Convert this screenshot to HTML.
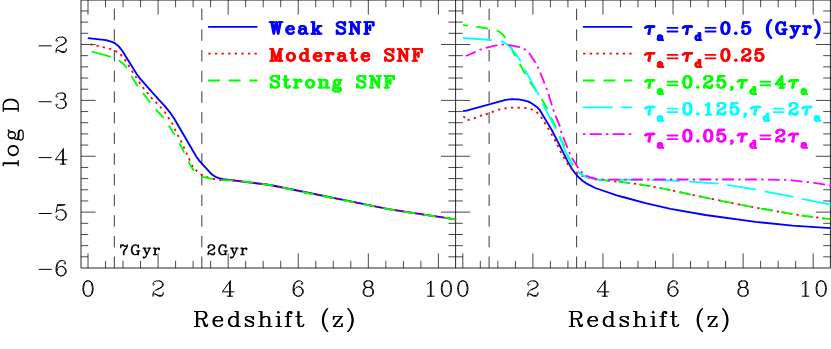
<!DOCTYPE html>
<html><head><meta charset="utf-8"><title>chart</title>
<style>html,body{margin:0;padding:0;background:#fff;font-family:"Liberation Sans",sans-serif}svg{display:block;position:absolute;left:0;top:0}</style>
</head><body>
<svg width="831" height="349" viewBox="0 0 831 349">
<rect width="831" height="349" fill="#fff"/>
<path d="M81.00 0.05L830.40 0.05 M81.00 268.00L830.40 268.00 M81.00 0.05L81.00 268.00 M455.60 0.05L455.60 268.00 M830.40 0.05L830.40 268.00" stroke="#000" stroke-width="0.85" fill="none" stroke-linecap="butt"/>
<path d="M88.00 0.05L88.00 14.65 M88.00 268.00L88.00 253.40 M105.52 0.05L105.52 7.25 M105.52 268.00L105.52 260.80 M123.04 0.05L123.04 7.25 M123.04 268.00L123.04 260.80 M140.56 0.05L140.56 7.25 M140.56 268.00L140.56 260.80 M158.08 0.05L158.08 14.65 M158.08 268.00L158.08 253.40 M175.60 0.05L175.60 7.25 M175.60 268.00L175.60 260.80 M193.12 0.05L193.12 7.25 M193.12 268.00L193.12 260.80 M210.64 0.05L210.64 7.25 M210.64 268.00L210.64 260.80 M228.16 0.05L228.16 14.65 M228.16 268.00L228.16 253.40 M245.68 0.05L245.68 7.25 M245.68 268.00L245.68 260.80 M263.20 0.05L263.20 7.25 M263.20 268.00L263.20 260.80 M280.72 0.05L280.72 7.25 M280.72 268.00L280.72 260.80 M298.24 0.05L298.24 14.65 M298.24 268.00L298.24 253.40 M315.76 0.05L315.76 7.25 M315.76 268.00L315.76 260.80 M333.28 0.05L333.28 7.25 M333.28 268.00L333.28 260.80 M350.80 0.05L350.80 7.25 M350.80 268.00L350.80 260.80 M368.32 0.05L368.32 14.65 M368.32 268.00L368.32 253.40 M385.84 0.05L385.84 7.25 M385.84 268.00L385.84 260.80 M403.36 0.05L403.36 7.25 M403.36 268.00L403.36 260.80 M420.88 0.05L420.88 7.25 M420.88 268.00L420.88 260.80 M438.40 0.05L438.40 14.65 M438.40 268.00L438.40 253.40 M81.00 256.82L88.20 256.82 M455.60 256.82L448.40 256.82 M81.00 245.65L88.20 245.65 M455.60 245.65L448.40 245.65 M81.00 234.48L88.20 234.48 M455.60 234.48L448.40 234.48 M81.00 223.30L88.20 223.30 M455.60 223.30L448.40 223.30 M81.00 212.12L95.60 212.12 M455.60 212.12L441.00 212.12 M81.00 200.95L88.20 200.95 M455.60 200.95L448.40 200.95 M81.00 189.77L88.20 189.77 M455.60 189.77L448.40 189.77 M81.00 178.60L88.20 178.60 M455.60 178.60L448.40 178.60 M81.00 167.43L88.20 167.43 M455.60 167.43L448.40 167.43 M81.00 156.25L95.60 156.25 M455.60 156.25L441.00 156.25 M81.00 145.07L88.20 145.07 M455.60 145.07L448.40 145.07 M81.00 133.90L88.20 133.90 M455.60 133.90L448.40 133.90 M81.00 122.72L88.20 122.72 M455.60 122.72L448.40 122.72 M81.00 111.55L88.20 111.55 M455.60 111.55L448.40 111.55 M81.00 100.38L95.60 100.38 M455.60 100.38L441.00 100.38 M81.00 89.20L88.20 89.20 M455.60 89.20L448.40 89.20 M81.00 78.02L88.20 78.02 M455.60 78.02L448.40 78.02 M81.00 66.85L88.20 66.85 M455.60 66.85L448.40 66.85 M81.00 55.67L88.20 55.67 M455.60 55.67L448.40 55.67 M81.00 44.50L95.60 44.50 M455.60 44.50L441.00 44.50 M81.00 33.32L88.20 33.32 M455.60 33.32L448.40 33.32 M81.00 22.15L88.20 22.15 M455.60 22.15L448.40 22.15 M81.00 10.97L88.20 10.97 M455.60 10.97L448.40 10.97 M462.80 0.05L462.80 14.65 M462.80 268.00L462.80 253.40 M480.32 0.05L480.32 7.25 M480.32 268.00L480.32 260.80 M497.84 0.05L497.84 7.25 M497.84 268.00L497.84 260.80 M515.36 0.05L515.36 7.25 M515.36 268.00L515.36 260.80 M532.88 0.05L532.88 14.65 M532.88 268.00L532.88 253.40 M550.40 0.05L550.40 7.25 M550.40 268.00L550.40 260.80 M567.92 0.05L567.92 7.25 M567.92 268.00L567.92 260.80 M585.44 0.05L585.44 7.25 M585.44 268.00L585.44 260.80 M602.96 0.05L602.96 14.65 M602.96 268.00L602.96 253.40 M620.48 0.05L620.48 7.25 M620.48 268.00L620.48 260.80 M638.00 0.05L638.00 7.25 M638.00 268.00L638.00 260.80 M655.52 0.05L655.52 7.25 M655.52 268.00L655.52 260.80 M673.04 0.05L673.04 14.65 M673.04 268.00L673.04 253.40 M690.56 0.05L690.56 7.25 M690.56 268.00L690.56 260.80 M708.08 0.05L708.08 7.25 M708.08 268.00L708.08 260.80 M725.60 0.05L725.60 7.25 M725.60 268.00L725.60 260.80 M743.12 0.05L743.12 14.65 M743.12 268.00L743.12 253.40 M760.64 0.05L760.64 7.25 M760.64 268.00L760.64 260.80 M778.16 0.05L778.16 7.25 M778.16 268.00L778.16 260.80 M795.68 0.05L795.68 7.25 M795.68 268.00L795.68 260.80 M813.20 0.05L813.20 14.65 M813.20 268.00L813.20 253.40 M455.60 256.82L462.80 256.82 M830.40 256.82L823.20 256.82 M455.60 245.65L462.80 245.65 M830.40 245.65L823.20 245.65 M455.60 234.48L462.80 234.48 M830.40 234.48L823.20 234.48 M455.60 223.30L462.80 223.30 M830.40 223.30L823.20 223.30 M455.60 212.12L470.20 212.12 M830.40 212.12L815.80 212.12 M455.60 200.95L462.80 200.95 M830.40 200.95L823.20 200.95 M455.60 189.77L462.80 189.77 M830.40 189.77L823.20 189.77 M455.60 178.60L462.80 178.60 M830.40 178.60L823.20 178.60 M455.60 167.43L462.80 167.43 M830.40 167.43L823.20 167.43 M455.60 156.25L470.20 156.25 M830.40 156.25L815.80 156.25 M455.60 145.07L462.80 145.07 M830.40 145.07L823.20 145.07 M455.60 133.90L462.80 133.90 M830.40 133.90L823.20 133.90 M455.60 122.72L462.80 122.72 M830.40 122.72L823.20 122.72 M455.60 111.55L462.80 111.55 M830.40 111.55L823.20 111.55 M455.60 100.38L470.20 100.38 M830.40 100.38L815.80 100.38 M455.60 89.20L462.80 89.20 M830.40 89.20L823.20 89.20 M455.60 78.02L462.80 78.02 M830.40 78.02L823.20 78.02 M455.60 66.85L462.80 66.85 M830.40 66.85L823.20 66.85 M455.60 55.67L462.80 55.67 M830.40 55.67L823.20 55.67 M455.60 44.50L470.20 44.50 M830.40 44.50L815.80 44.50 M455.60 33.32L462.80 33.32 M830.40 33.32L823.20 33.32 M455.60 22.15L462.80 22.15 M830.40 22.15L823.20 22.15 M455.60 10.97L462.80 10.97 M830.40 10.97L823.20 10.97" stroke="#000" stroke-width="0.72" fill="none" stroke-linecap="butt"/>
<path d="M114.32 268.00L114.32 0.05 M201.84 268.00L201.84 0.05 M489.12 268.00L489.12 0.05 M576.64 268.00L576.64 0.05" stroke="#000" stroke-width="0.78" fill="none" stroke-dasharray="11.5 9.15" stroke-dashoffset="0"/>
<path d="M87.8 38.2 L106.1 40.2 L113.4 42.4 L115.5 43.6 L118.6 46.2 L122.1 50.6 L136.8 74.3 L140.3 78.9 L158.5 99.4 L164.4 105.6 L170.5 113.2 L174.3 118.8 L196.1 156.2 L199.4 160.9 L211.3 173.8 L213.0 175.3 L215.5 176.8 L218.9 178.1 L223.3 179.1 L266.2 184.5 L275.2 186.0 L388.6 209.1 L455.4 219.3" stroke="#0000ff" stroke-width="1.85" fill="none" stroke-linecap="butt" stroke-linejoin="round"/>
<path d="M90.48 44.36 L92.72 44.84 M96.48 45.63 L98.72 46.17 M102.68 47.13 L104.92 47.67 M109.04 48.46 L111.16 49.34 M115.28 50.70 L117.12 52.10 M120.49 54.30 L121.91 56.10 M124.58 59.33 L125.82 61.27 M128.19 64.92 L129.41 66.88 M131.77 70.73 L133.03 72.67 M135.27 76.14 L136.53 78.06 M138.93 81.87 L140.27 83.73 M142.66 87.22 L144.14 88.98 M146.87 92.21 L148.33 93.99 M150.99 97.39 L152.61 99.01 M155.62 101.95 L157.18 103.65 M160.04 106.74 L161.56 108.46 M164.59 111.63 L165.81 113.57 M168.19 117.33 L169.41 119.27 M171.71 122.66 L172.69 124.74 M174.57 128.88 L175.63 130.92 M177.66 134.89 L178.74 136.91 M180.72 140.45 L181.68 142.55 M183.53 146.55 L184.47 148.65 M186.22 152.55 L187.18 154.65 M188.91 158.46 L189.89 160.54 M191.67 165.02 L193.13 166.78 M195.39 169.90 L197.21 171.30 M200.55 174.24 L202.65 175.16 M206.19 176.89 L208.41 177.51 M212.86 178.94 L215.14 179.26 M219.15 179.96 L221.45 180.04 M225.80 180.18 L228.10 180.31 M232.41 180.51 L234.70 180.72 M239.01 181.09 L241.29 181.33 M245.59 181.76 L247.87 182.05 M252.16 182.57 L254.44 182.88 M258.72 183.45 L261.00 183.77 M265.28 184.35 L267.55 184.71 M271.82 185.37 L274.08 185.81 M278.33 186.61 L280.57 187.12 M284.79 188.05 L287.03 188.57 M291.24 189.55 L293.48 190.06 M297.69 191.02 L299.94 191.49 M304.17 192.38 L306.43 192.83 M310.66 193.68 L312.92 194.12 M317.16 194.94 L319.42 195.38 M323.66 196.21 L325.91 196.66 M330.15 197.51 L332.40 197.97 M336.64 198.82 L338.89 199.28 M343.13 200.14 L345.38 200.59 M349.62 201.44 L351.87 201.90 M356.10 202.75 L358.36 203.20 M362.59 204.06 L364.85 204.51 M369.08 205.36 L371.34 205.80 M375.58 206.62 L377.84 207.05 M382.09 207.86 L384.35 208.28 M388.59 209.08 L390.86 209.48 M395.11 210.25 L397.38 210.63 M401.63 211.36 L403.91 211.71 M408.18 212.38 L410.45 212.70 M414.73 213.32 L417.01 213.64 M421.28 214.24 L423.56 214.57 M427.84 215.20 L430.11 215.54 M434.38 216.17 L436.66 216.51 M440.93 217.14 L443.21 217.48 M447.48 218.12 L449.75 218.46 M454.03 219.10 L456.30 219.43" stroke="#ff0000" stroke-width="1.8" fill="none" stroke-linecap="butt"/>
<path d="M91.8 51.7 L101.3 54.2 L110.9 56.9 M118.7 60.3 L123.2 63.6 L126.9 68.3 M131.4 76.1 L137.7 86.2 M143.0 93.1 L150.2 102.5 M155.8 109.5 L163.6 117.9 M168.8 125.6 L172.0 130.2 L174.7 135.1 M179.5 143.2 L184.2 152.6 M188.4 161.4 L191.0 166.5 L194.0 170.6 M201.6 176.6 L207.0 177.9 L213.0 178.8 M221.3 180.1 L229.9 180.4 L232.8 180.6 M241.6 181.4 L253.1 182.7 M261.8 183.9 L273.3 185.7 M282.1 187.4 L293.6 190.1 M302.3 192.0 L313.8 194.3 M322.6 196.0 L334.1 198.3 M342.8 200.1 L354.3 202.4 M363.1 204.2 L374.6 206.4 M383.3 208.1 L394.8 210.2 M403.6 211.7 L415.1 213.4 M423.8 214.6 L435.3 216.3 M444.1 217.6 L455.4 219.3" stroke="#00ff00" stroke-width="1.85" fill="none" stroke-linecap="butt" stroke-linejoin="round"/>
<path d="M462.9 110.8 L465.6 110.8 L505.6 99.9 L511.0 99.2 L518.6 99.4 L523.9 100.3 L528.4 101.7 L531.8 103.4 L537.3 107.3 L539.4 109.6 L551.5 129.5 L559.5 145.1 L567.6 161.4 L572.2 169.2 L575.3 173.4 L578.7 177.3 L582.5 180.7 L585.8 183.1 L595.3 188.0 L617.5 195.7 L624.8 197.5 L645.4 203.2 L670.5 208.8 L705.5 215.0 L755.5 221.9 L792.5 225.6 L830.4 228.1" stroke="#0000ff" stroke-width="1.85" fill="none" stroke-linecap="butt" stroke-linejoin="round"/>
<path d="M463.23 116.48 L465.17 117.72 M467.50 120.23 L469.70 119.57 M473.83 118.42 L475.97 117.58 M479.89 115.90 L482.11 115.30 M485.83 114.42 L487.97 113.58 M491.71 112.08 L493.89 111.32 M497.97 109.71 L500.23 109.29 M504.45 108.41 L506.75 108.19 M510.95 107.70 L513.25 107.70 M517.55 107.65 L519.85 107.75 M524.28 107.73 L526.52 108.27 M530.70 108.93 L532.70 110.07 M536.57 111.81 L538.03 113.59 M540.87 116.83 L542.13 118.77 M544.41 122.21 L545.59 124.19 M547.81 127.91 L548.99 129.89 M551.25 133.59 L552.35 135.61 M554.37 139.28 L555.43 141.32 M557.31 144.86 L558.29 146.94 M560.02 150.91 L561.18 152.89 M563.42 156.71 L564.58 158.69 M566.81 162.78 L568.19 164.62 M570.57 168.32 L572.43 169.68 M575.79 172.36 L577.81 173.44 M581.51 175.62 L583.69 176.38 M587.77 177.99 L590.03 178.41 M594.36 179.28 L596.64 179.52 M600.95 180.00 L603.25 180.20 M607.56 180.57 L609.84 180.83 M614.17 181.30 L616.46 181.56 M620.75 182.03 L623.04 182.29 M627.33 182.78 L629.61 183.07 M633.90 183.58 L636.18 183.91 M640.46 184.51 L642.72 184.89 M646.99 185.60 L649.25 186.02 M653.49 186.80 L655.75 187.23 M660.00 188.03 L662.25 188.48 M666.49 189.32 L668.74 189.79 M672.98 190.66 L675.23 191.14 M679.45 192.02 L681.70 192.52 M685.92 193.44 L688.17 193.94 M692.38 194.87 L694.63 195.35 M698.86 196.26 L701.11 196.72 M705.34 197.59 L707.60 198.04 M711.83 198.89 L714.09 199.35 M718.32 200.20 L720.57 200.67 M724.80 201.55 L727.05 202.02 M731.28 202.91 L733.54 203.36 M737.77 204.22 L740.03 204.65 M744.27 205.48 L746.53 205.90 M750.78 206.70 L753.04 207.11 M757.29 207.89 L759.55 208.29 M763.81 209.05 L766.07 209.44 M770.33 210.17 L772.60 210.56 M776.86 211.28 L779.12 211.68 M783.37 212.45 L785.64 212.85 M789.89 213.63 L792.16 214.00 M796.42 214.71 L798.69 215.04 M802.97 215.67 L805.25 215.98 M809.53 216.57 L811.81 216.87 M816.09 217.44 L818.37 217.73 M822.65 218.29 L824.94 218.59 M829.22 219.15 L831.50 219.44" stroke="#ff0000" stroke-width="1.8" fill="none" stroke-linecap="butt"/>
<path d="M462.9 25.1 L468.0 25.7 M476.2 26.6 L487.8 28.5 M496.5 30.5 L499.6 31.9 L502.3 33.9 L505.3 37.9 M509.9 45.6 L515.2 56.0 M519.7 63.8 L525.2 74.1 M529.9 81.8 L536.5 91.4 M541.6 98.9 L547.4 109.0 M551.1 117.3 L555.9 127.9 M559.5 136.1 L564.0 145.3 L564.6 146.7 M567.6 155.2 L571.5 163.0 L573.0 165.5 M578.7 172.4 L582.3 175.0 L585.9 176.9 L588.9 178.0 M597.7 179.9 L606.8 180.5 L609.4 180.8 M618.3 181.7 L630.0 183.1 M638.9 184.3 L650.4 186.2 M659.3 187.9 L670.7 190.2 M679.5 192.0 L691.0 194.6 M699.8 196.4 L711.2 198.8 M720.0 200.6 L731.5 202.9 M740.3 204.7 L751.8 206.9 M760.7 208.5 L772.2 210.5 M781.1 212.0 L792.6 214.1 M801.5 215.5 L813.1 217.0 M822.0 218.2 L830.4 219.3" stroke="#00ff00" stroke-width="1.85" fill="none" stroke-linecap="butt" stroke-linejoin="round"/>
<path d="M462.9 38.0 L492.0 40.1 M500.8 41.3 L503.4 42.2 L505.9 43.6 L508.9 45.9 L512.0 49.2 L516.7 55.3 L520.8 61.6 M524.8 69.6 L537.2 92.1 L538.8 95.3 M542.6 103.3 L555.8 129.3 M559.7 137.3 L562.2 143.0 L566.6 154.4 L568.9 159.0 L572.0 163.7 M577.4 170.8 L579.8 173.1 L583.9 175.7 L587.2 177.2 L591.9 178.6 L596.7 179.4 L604.3 179.7 M613.2 179.7 L642.4 179.7 M651.3 179.8 L670.5 180.5 L680.4 181.2 M689.3 181.7 L718.4 183.7 M727.2 184.9 L756.1 189.6 M764.8 191.4 L793.4 196.9 M802.1 198.9 L830.8 204.7" stroke="#00ffff" stroke-width="1.85" fill="none" stroke-linecap="butt" stroke-linejoin="round"/>
<path d="M465.8 56.0 L475.7 51.9 M479.5 50.0 L481.7 49.2 M485.8 47.9 L497.4 45.2 M501.6 44.6 L503.9 44.6 M508.2 44.9 L518.1 46.8 L519.9 47.2 M523.9 48.8 L525.8 50.0 M529.0 52.9 L535.6 62.8 M537.5 66.6 L538.5 68.7 M540.2 72.7 L544.6 83.7 M546.2 87.7 L547.0 89.9 M548.4 93.9 L551.9 105.3 M553.2 109.4 L553.9 111.6 M555.5 115.6 L559.7 125.8 L560.0 126.6 M560.8 130.8 L561.5 133.0 M563.1 137.0 L567.6 148.0 M569.2 152.0 L570.0 154.2 M571.9 158.0 L578.3 168.1 M581.0 171.4 L582.6 173.1 M586.0 175.6 L590.9 177.5 L594.4 178.5 L597.3 179.1 M601.6 179.5 L603.9 179.6 M608.2 179.6 L620.1 179.6 M624.4 179.6 L626.7 179.6 M631.0 179.6 L642.9 179.5 M647.2 179.5 L649.5 179.5 M653.8 179.5 L665.7 179.5 M670.0 179.5 L672.3 179.5 M676.6 179.5 L688.5 179.5 M692.8 179.5 L695.1 179.5 M699.4 179.5 L711.3 179.5 M715.6 179.5 L717.9 179.5 M722.2 179.5 L734.1 179.5 M738.4 179.5 L740.7 179.5 M745.0 179.5 L756.9 179.5 M761.2 179.5 L763.5 179.5 M767.8 179.6 L779.7 179.8 M784.0 179.9 L786.3 179.9 M790.6 180.1 L802.4 181.6 M806.7 182.0 L809.0 182.2 M813.3 182.7 L825.0 184.7 M829.2 185.5 L831.0 185.8" stroke="#ff00ff" stroke-width="1.85" fill="none" stroke-linecap="butt" stroke-linejoin="round"/>
<path d="M208.1 26.9 L257.4 26.9" stroke="#0000ff" stroke-width="1.85" fill="none" stroke-linecap="butt" stroke-linejoin="round"/>
<path d="M208.35 53.70 L210.65 53.70 M214.94 53.70 L217.24 53.70 M221.53 53.70 L223.83 53.70 M228.12 53.70 L230.42 53.70 M234.71 53.70 L237.01 53.70 M241.30 53.70 L243.60 53.70 M247.89 53.70 L250.19 53.70 M254.48 53.70 L256.78 53.70" stroke="#ff0000" stroke-width="1.8" fill="none" stroke-linecap="butt"/>
<path d="M208.1 80.5 L219.9 80.5 M228.7 80.5 L240.5 80.5 M249.3 80.5 L257.4 80.5" stroke="#00ff00" stroke-width="1.85" fill="none" stroke-linecap="butt" stroke-linejoin="round"/>
<path d="M582.9 26.9 L632.2 26.9" stroke="#0000ff" stroke-width="1.85" fill="none" stroke-linecap="butt" stroke-linejoin="round"/>
<path d="M583.15 53.70 L585.45 53.70 M589.74 53.70 L592.04 53.70 M596.33 53.70 L598.63 53.70 M602.92 53.70 L605.22 53.70 M609.51 53.70 L611.81 53.70 M616.10 53.70 L618.40 53.70 M622.69 53.70 L624.99 53.70 M629.28 53.70 L631.58 53.70" stroke="#ff0000" stroke-width="1.8" fill="none" stroke-linecap="butt"/>
<path d="M582.9 80.5 L594.7 80.5 M603.5 80.5 L615.3 80.5 M624.1 80.5 L632.2 80.5" stroke="#00ff00" stroke-width="1.85" fill="none" stroke-linecap="butt" stroke-linejoin="round"/>
<path d="M582.9 107.3 L612.8 107.3 M621.4 107.3 L632.2 107.3" stroke="#00ffff" stroke-width="1.85" fill="none" stroke-linecap="butt" stroke-linejoin="round"/>
<path d="M582.9 134.1 L585.5 134.1 M589.7 134.1 L601.7 134.1 M605.8 134.1 L608.4 134.1 M612.6 134.1 L624.6 134.1 M628.7 134.1 L631.3 134.1" stroke="#ff00ff" stroke-width="1.85" fill="none" stroke-linecap="butt" stroke-linejoin="round"/>
<path d="M87.27 280.91 L85.09 281.64 L83.63 283.82 L82.90 287.46 L82.90 289.65 L83.63 293.29 L85.09 295.47 L87.27 296.20 L88.73 296.20 L90.91 295.47 L92.37 293.29 L93.10 289.65 L93.10 287.46 L92.37 283.82 L90.91 281.64 L88.73 280.91 L87.27 280.91 M87.27 280.91 L85.82 281.64 L85.09 282.37 L84.36 283.82 L83.63 287.46 L83.63 289.65 L84.36 293.29 L85.09 294.74 L85.82 295.47 L87.27 296.20 M88.73 296.20 L90.18 295.47 L90.91 294.74 L91.64 293.29 L92.37 289.65 L92.37 287.46 L91.64 283.82 L90.91 282.37 L90.18 281.64 L88.73 280.91" stroke="#000" stroke-width="1.0" fill="none" stroke-linecap="round" stroke-linejoin="round"/>
<path d="M153.71 283.82 L154.44 284.55 L153.71 285.28 L152.98 284.55 L152.98 283.82 L153.71 282.37 L154.44 281.64 L156.62 280.91 L159.54 280.91 L161.72 281.64 L162.45 282.37 L163.18 283.82 L163.18 285.28 L162.45 286.74 L160.26 288.19 L156.62 289.65 L155.17 290.38 L153.71 291.83 L152.98 294.02 L152.98 296.20 M159.54 280.91 L160.99 281.64 L161.72 282.37 L162.45 283.82 L162.45 285.28 L161.72 286.74 L159.54 288.19 L156.62 289.65 M152.98 294.74 L153.71 294.02 L155.17 294.02 L158.81 295.47 L160.99 295.47 L162.45 294.74 L163.18 294.02 M155.17 294.02 L158.81 296.20 L161.72 296.20 L162.45 295.47 L163.18 294.02 L163.18 292.56" stroke="#000" stroke-width="1.0" fill="none" stroke-linecap="round" stroke-linejoin="round"/>
<path d="M229.62 282.37 L229.62 296.20 M230.34 280.91 L230.34 296.20 M230.34 280.91 L222.34 291.83 L233.98 291.83 M227.43 296.20 L232.53 296.20" stroke="#000" stroke-width="1.0" fill="none" stroke-linecap="round" stroke-linejoin="round"/>
<path d="M301.88 283.10 L301.15 283.82 L301.88 284.55 L302.61 283.82 L302.61 283.10 L301.88 281.64 L300.42 280.91 L298.24 280.91 L296.06 281.64 L294.60 283.10 L293.87 284.55 L293.14 287.46 L293.14 291.83 L293.87 294.02 L295.33 295.47 L297.51 296.20 L298.97 296.20 L301.15 295.47 L302.61 294.02 L303.34 291.83 L303.34 291.10 L302.61 288.92 L301.15 287.46 L298.97 286.74 L298.24 286.74 L296.06 287.46 L294.60 288.92 L293.87 291.10 M298.24 280.91 L296.78 281.64 L295.33 283.10 L294.60 284.55 L293.87 287.46 L293.87 291.83 L294.60 294.02 L296.06 295.47 L297.51 296.20 M298.97 296.20 L300.42 295.47 L301.88 294.02 L302.61 291.83 L302.61 291.10 L301.88 288.92 L300.42 287.46 L298.97 286.74" stroke="#000" stroke-width="1.0" fill="none" stroke-linecap="round" stroke-linejoin="round"/>
<path d="M366.86 280.91 L364.68 281.64 L363.95 283.10 L363.95 285.28 L364.68 286.74 L366.86 287.46 L369.78 287.46 L371.96 286.74 L372.69 285.28 L372.69 283.10 L371.96 281.64 L369.78 280.91 L366.86 280.91 M366.86 280.91 L365.41 281.64 L364.68 283.10 L364.68 285.28 L365.41 286.74 L366.86 287.46 M369.78 287.46 L371.23 286.74 L371.96 285.28 L371.96 283.10 L371.23 281.64 L369.78 280.91 M366.86 287.46 L364.68 288.19 L363.95 288.92 L363.22 290.38 L363.22 293.29 L363.95 294.74 L364.68 295.47 L366.86 296.20 L369.78 296.20 L371.96 295.47 L372.69 294.74 L373.42 293.29 L373.42 290.38 L372.69 288.92 L371.96 288.19 L369.78 287.46 M366.86 287.46 L365.41 288.19 L364.68 288.92 L363.95 290.38 L363.95 293.29 L364.68 294.74 L365.41 295.47 L366.86 296.20 M369.78 296.20 L371.23 295.47 L371.96 294.74 L372.69 293.29 L372.69 290.38 L371.96 288.92 L371.23 288.19 L369.78 287.46" stroke="#000" stroke-width="1.0" fill="none" stroke-linecap="round" stroke-linejoin="round"/>
<path d="M427.48 283.82 L428.94 283.10 L431.12 280.91 L431.12 296.20 M430.39 281.64 L430.39 296.20 M427.48 296.20 L434.03 296.20 M445.68 280.91 L443.50 281.64 L442.04 283.82 L441.31 287.46 L441.31 289.65 L442.04 293.29 L443.50 295.47 L445.68 296.20 L447.14 296.20 L449.32 295.47 L450.78 293.29 L451.50 289.65 L451.50 287.46 L450.78 283.82 L449.32 281.64 L447.14 280.91 L445.68 280.91 M445.68 280.91 L444.22 281.64 L443.50 282.37 L442.77 283.82 L442.04 287.46 L442.04 289.65 L442.77 293.29 L443.50 294.74 L444.22 295.47 L445.68 296.20 M447.14 296.20 L448.59 295.47 L449.32 294.74 L450.05 293.29 L450.78 289.65 L450.78 287.46 L450.05 283.82 L449.32 282.37 L448.59 281.64 L447.14 280.91" stroke="#000" stroke-width="1.0" fill="none" stroke-linecap="round" stroke-linejoin="round"/>
<path d="M462.07 280.91 L459.89 281.64 L458.43 283.82 L457.70 287.46 L457.70 289.65 L458.43 293.29 L459.89 295.47 L462.07 296.20 L463.53 296.20 L465.71 295.47 L467.17 293.29 L467.90 289.65 L467.90 287.46 L467.17 283.82 L465.71 281.64 L463.53 280.91 L462.07 280.91 M462.07 280.91 L460.62 281.64 L459.89 282.37 L459.16 283.82 L458.43 287.46 L458.43 289.65 L459.16 293.29 L459.89 294.74 L460.62 295.47 L462.07 296.20 M463.53 296.20 L464.98 295.47 L465.71 294.74 L466.44 293.29 L467.17 289.65 L467.17 287.46 L466.44 283.82 L465.71 282.37 L464.98 281.64 L463.53 280.91" stroke="#000" stroke-width="1.0" fill="none" stroke-linecap="round" stroke-linejoin="round"/>
<path d="M528.51 283.82 L529.24 284.55 L528.51 285.28 L527.78 284.55 L527.78 283.82 L528.51 282.37 L529.24 281.64 L531.42 280.91 L534.34 280.91 L536.52 281.64 L537.25 282.37 L537.98 283.82 L537.98 285.28 L537.25 286.74 L535.06 288.19 L531.42 289.65 L529.97 290.38 L528.51 291.83 L527.78 294.02 L527.78 296.20 M534.34 280.91 L535.79 281.64 L536.52 282.37 L537.25 283.82 L537.25 285.28 L536.52 286.74 L534.34 288.19 L531.42 289.65 M527.78 294.74 L528.51 294.02 L529.97 294.02 L533.61 295.47 L535.79 295.47 L537.25 294.74 L537.98 294.02 M529.97 294.02 L533.61 296.20 L536.52 296.20 L537.25 295.47 L537.98 294.02 L537.98 292.56" stroke="#000" stroke-width="1.0" fill="none" stroke-linecap="round" stroke-linejoin="round"/>
<path d="M604.42 282.37 L604.42 296.20 M605.14 280.91 L605.14 296.20 M605.14 280.91 L597.14 291.83 L608.78 291.83 M602.23 296.20 L607.33 296.20" stroke="#000" stroke-width="1.0" fill="none" stroke-linecap="round" stroke-linejoin="round"/>
<path d="M676.68 283.10 L675.95 283.82 L676.68 284.55 L677.41 283.82 L677.41 283.10 L676.68 281.64 L675.22 280.91 L673.04 280.91 L670.86 281.64 L669.40 283.10 L668.67 284.55 L667.94 287.46 L667.94 291.83 L668.67 294.02 L670.13 295.47 L672.31 296.20 L673.77 296.20 L675.95 295.47 L677.41 294.02 L678.14 291.83 L678.14 291.10 L677.41 288.92 L675.95 287.46 L673.77 286.74 L673.04 286.74 L670.86 287.46 L669.40 288.92 L668.67 291.10 M673.04 280.91 L671.58 281.64 L670.13 283.10 L669.40 284.55 L668.67 287.46 L668.67 291.83 L669.40 294.02 L670.86 295.47 L672.31 296.20 M673.77 296.20 L675.22 295.47 L676.68 294.02 L677.41 291.83 L677.41 291.10 L676.68 288.92 L675.22 287.46 L673.77 286.74" stroke="#000" stroke-width="1.0" fill="none" stroke-linecap="round" stroke-linejoin="round"/>
<path d="M741.66 280.91 L739.48 281.64 L738.75 283.10 L738.75 285.28 L739.48 286.74 L741.66 287.46 L744.58 287.46 L746.76 286.74 L747.49 285.28 L747.49 283.10 L746.76 281.64 L744.58 280.91 L741.66 280.91 M741.66 280.91 L740.21 281.64 L739.48 283.10 L739.48 285.28 L740.21 286.74 L741.66 287.46 M744.58 287.46 L746.03 286.74 L746.76 285.28 L746.76 283.10 L746.03 281.64 L744.58 280.91 M741.66 287.46 L739.48 288.19 L738.75 288.92 L738.02 290.38 L738.02 293.29 L738.75 294.74 L739.48 295.47 L741.66 296.20 L744.58 296.20 L746.76 295.47 L747.49 294.74 L748.22 293.29 L748.22 290.38 L747.49 288.92 L746.76 288.19 L744.58 287.46 M741.66 287.46 L740.21 288.19 L739.48 288.92 L738.75 290.38 L738.75 293.29 L739.48 294.74 L740.21 295.47 L741.66 296.20 M744.58 296.20 L746.03 295.47 L746.76 294.74 L747.49 293.29 L747.49 290.38 L746.76 288.92 L746.03 288.19 L744.58 287.46" stroke="#000" stroke-width="1.0" fill="none" stroke-linecap="round" stroke-linejoin="round"/>
<path d="M802.28 283.82 L803.74 283.10 L805.92 280.91 L805.92 296.20 M805.19 281.64 L805.19 296.20 M802.28 296.20 L808.83 296.20 M820.48 280.91 L818.30 281.64 L816.84 283.82 L816.11 287.46 L816.11 289.65 L816.84 293.29 L818.30 295.47 L820.48 296.20 L821.94 296.20 L824.12 295.47 L825.58 293.29 L826.30 289.65 L826.30 287.46 L825.58 283.82 L824.12 281.64 L821.94 280.91 L820.48 280.91 M820.48 280.91 L819.02 281.64 L818.30 282.37 L817.57 283.82 L816.84 287.46 L816.84 289.65 L817.57 293.29 L818.30 294.74 L819.02 295.47 L820.48 296.20 M821.94 296.20 L823.39 295.47 L824.12 294.74 L824.85 293.29 L825.58 289.65 L825.58 287.46 L824.85 283.82 L824.12 282.37 L823.39 281.64 L821.94 280.91" stroke="#000" stroke-width="1.0" fill="none" stroke-linecap="round" stroke-linejoin="round"/>
<path d="M56.82 40.02 L57.55 40.75 L56.82 41.48 L56.10 40.75 L56.10 40.02 L56.82 38.57 L57.55 37.84 L59.74 37.11 L62.65 37.11 L64.83 37.84 L65.56 38.57 L66.29 40.02 L66.29 41.48 L65.56 42.94 L63.38 44.39 L59.74 45.85 L58.28 46.58 L56.82 48.03 L56.10 50.22 L56.10 52.40 M62.65 37.11 L64.10 37.84 L64.83 38.57 L65.56 40.02 L65.56 41.48 L64.83 42.94 L62.65 44.39 L59.74 45.85 M56.10 50.94 L56.82 50.22 L58.28 50.22 L61.92 51.67 L64.10 51.67 L65.56 50.94 L66.29 50.22 M58.28 50.22 L61.92 52.40 L64.83 52.40 L65.56 51.67 L66.29 50.22 L66.29 48.76" stroke="#000" stroke-width="1.0" fill="none" stroke-linecap="round" stroke-linejoin="round"/>
<path d="M39.12 45.85 L51.31 45.85" stroke="#000" stroke-width="1.0" fill="none" stroke-linecap="round" stroke-linejoin="round"/>
<path d="M56.82 95.90 L57.55 96.63 L56.82 97.36 L56.10 96.63 L56.10 95.90 L56.82 94.44 L57.55 93.72 L59.74 92.99 L62.65 92.99 L64.83 93.72 L65.56 95.17 L65.56 97.36 L64.83 98.81 L62.65 99.54 L60.46 99.54 M62.65 92.99 L64.10 93.72 L64.83 95.17 L64.83 97.36 L64.10 98.81 L62.65 99.54 M62.65 99.54 L64.10 100.27 L65.56 101.72 L66.29 103.18 L66.29 105.36 L65.56 106.82 L64.83 107.55 L62.65 108.28 L59.74 108.28 L57.55 107.55 L56.82 106.82 L56.10 105.36 L56.10 104.64 L56.82 103.91 L57.55 104.64 L56.82 105.36 M64.83 101.00 L65.56 103.18 L65.56 105.36 L64.83 106.82 L64.10 107.55 L62.65 108.28" stroke="#000" stroke-width="1.0" fill="none" stroke-linecap="round" stroke-linejoin="round"/>
<path d="M39.12 101.72 L51.31 101.72" stroke="#000" stroke-width="1.0" fill="none" stroke-linecap="round" stroke-linejoin="round"/>
<path d="M62.65 150.32 L62.65 164.15 M63.38 148.86 L63.38 164.15 M63.38 148.86 L55.37 159.78 L67.02 159.78 M60.46 164.15 L65.56 164.15" stroke="#000" stroke-width="1.0" fill="none" stroke-linecap="round" stroke-linejoin="round"/>
<path d="M39.12 157.60 L51.31 157.60" stroke="#000" stroke-width="1.0" fill="none" stroke-linecap="round" stroke-linejoin="round"/>
<path d="M57.55 204.74 L56.10 212.02 M56.10 212.02 L57.55 210.56 L59.74 209.83 L61.92 209.83 L64.10 210.56 L65.56 212.02 L66.29 214.20 L66.29 215.66 L65.56 217.84 L64.10 219.30 L61.92 220.03 L59.74 220.03 L57.55 219.30 L56.82 218.57 L56.10 217.11 L56.10 216.39 L56.82 215.66 L57.55 216.39 L56.82 217.11 M61.92 209.83 L63.38 210.56 L64.83 212.02 L65.56 214.20 L65.56 215.66 L64.83 217.84 L63.38 219.30 L61.92 220.03 M57.55 204.74 L64.83 204.74 M57.55 205.47 L61.19 205.47 L64.83 204.74" stroke="#000" stroke-width="1.0" fill="none" stroke-linecap="round" stroke-linejoin="round"/>
<path d="M39.12 213.47 L51.31 213.47" stroke="#000" stroke-width="1.0" fill="none" stroke-linecap="round" stroke-linejoin="round"/>
<path d="M64.83 262.80 L64.10 263.52 L64.83 264.25 L65.56 263.52 L65.56 262.80 L64.83 261.34 L63.38 260.61 L61.19 260.61 L59.01 261.34 L57.55 262.80 L56.82 264.25 L56.10 267.16 L56.10 271.53 L56.82 273.72 L58.28 275.17 L60.46 275.90 L61.92 275.90 L64.10 275.17 L65.56 273.72 L66.29 271.53 L66.29 270.80 L65.56 268.62 L64.10 267.16 L61.92 266.44 L61.19 266.44 L59.01 267.16 L57.55 268.62 L56.82 270.80 M61.19 260.61 L59.74 261.34 L58.28 262.80 L57.55 264.25 L56.82 267.16 L56.82 271.53 L57.55 273.72 L59.01 275.17 L60.46 275.90 M61.92 275.90 L63.38 275.17 L64.83 273.72 L65.56 271.53 L65.56 270.80 L64.83 268.62 L63.38 267.16 L61.92 266.44" stroke="#000" stroke-width="1.0" fill="none" stroke-linecap="round" stroke-linejoin="round"/>
<path d="M39.12 269.35 L51.31 269.35" stroke="#000" stroke-width="1.0" fill="none" stroke-linecap="round" stroke-linejoin="round"/>
<g stroke="#000" stroke-width="1.05" fill="none" stroke-linecap="round" stroke-linejoin="round"><path id="t1" transform="translate(-0.22,0)" d="M196.78 311.55 L196.78 326.50 M197.50 311.55 L197.50 326.50 M194.65 311.55 L203.19 311.55 L205.33 312.26 L206.04 312.97 L206.75 314.40 L206.75 315.82 L206.04 317.24 L205.33 317.96 L203.19 318.67 L197.50 318.67 M203.19 311.55 L204.62 312.26 L205.33 312.97 L206.04 314.40 L206.04 315.82 L205.33 317.24 L204.62 317.96 L203.19 318.67 M194.65 326.50 L199.63 326.50 M201.06 318.67 L202.48 319.38 L203.19 320.09 L205.33 325.08 L206.04 325.79 L206.75 325.79 L207.46 325.08 M202.48 319.38 L203.19 320.80 L204.62 325.79 L205.33 326.50 L206.75 326.50 L207.46 325.08 L207.46 324.36 M213.87 320.80 L222.42 320.80 L222.42 319.38 L221.71 317.96 L220.99 317.24 L219.57 316.53 L217.43 316.53 L215.30 317.24 L213.87 318.67 L213.16 320.80 L213.16 322.23 L213.87 324.36 L215.30 325.79 L217.43 326.50 L218.86 326.50 L220.99 325.79 L222.42 324.36 M221.71 320.80 L221.71 318.67 L220.99 317.24 M217.43 316.53 L216.01 317.24 L214.59 318.67 L213.87 320.80 L213.87 322.23 L214.59 324.36 L216.01 325.79 L217.43 326.50 M237.17 311.55 L237.17 326.50 M237.88 311.55 L237.88 326.50 M237.17 318.67 L235.75 317.24 L234.32 316.53 L232.90 316.53 L230.76 317.24 L229.34 318.67 L228.63 320.80 L228.63 322.23 L229.34 324.36 L230.76 325.79 L232.90 326.50 L234.32 326.50 L235.75 325.79 L237.17 324.36 M232.90 316.53 L231.47 317.24 L230.05 318.67 L229.34 320.80 L229.34 322.23 L230.05 324.36 L231.47 325.79 L232.90 326.50 M235.03 311.55 L237.88 311.55 M237.17 326.50 L240.02 326.50 M252.63 317.96 L253.34 316.53 L253.34 319.38 L252.63 317.96 L251.92 317.24 L250.50 316.53 L247.65 316.53 L246.22 317.24 L245.51 317.96 L245.51 319.38 L246.22 320.09 L247.65 320.80 L251.21 322.23 L252.63 322.94 L253.34 323.65 M245.51 318.67 L246.22 319.38 L247.65 320.09 L251.21 321.52 L252.63 322.23 L253.34 322.94 L253.34 325.08 L252.63 325.79 L251.21 326.50 L248.36 326.50 L246.94 325.79 L246.22 325.08 L245.51 323.65 L245.51 326.50 L246.22 325.08 M261.08 311.55 L261.08 326.50 M261.79 311.55 L261.79 326.50 M261.79 318.67 L263.21 317.24 L265.35 316.53 L266.77 316.53 L268.91 317.24 L269.62 318.67 L269.62 326.50 M266.77 316.53 L268.20 317.24 L268.91 318.67 L268.91 326.50 M258.94 311.55 L261.79 311.55 M258.94 326.50 L263.92 326.50 M266.77 326.50 L271.76 326.50 M278.37 311.55 L277.66 312.26 L278.37 312.97 L279.08 312.26 L278.37 311.55 M278.37 316.53 L278.37 326.50 M279.08 316.53 L279.08 326.50 M276.23 316.53 L279.08 316.53 M276.23 326.50 L281.22 326.50 M291.08 312.26 L290.37 312.97 L291.08 313.68 L291.80 312.97 L291.80 312.26 L291.08 311.55 L289.66 311.55 L288.24 312.26 L287.52 313.68 L287.52 326.50 M289.66 311.55 L288.95 312.26 L288.24 313.68 L288.24 326.50 M285.39 316.53 L291.08 316.53 M285.39 326.50 L290.37 326.50 M298.10 311.55 L298.10 323.65 L298.82 325.79 L300.24 326.50 L301.66 326.50 L303.09 325.79 L303.80 324.36 M298.82 311.55 L298.82 323.65 L299.53 325.79 L300.24 326.50 M295.97 316.53 L301.66 316.53 M327.60 308.70 L326.18 310.12 L324.76 312.26 L323.33 315.11 L322.62 318.67 L322.62 321.52 L323.33 325.08 L324.76 327.92 L326.18 330.06 L327.60 331.48 M326.18 310.12 L324.76 312.97 L324.04 315.11 L323.33 318.67 L323.33 321.52 L324.04 325.08 L324.76 327.21 L326.18 330.06 M341.34 316.53 L333.51 326.50 M342.05 316.53 L334.22 326.50 M334.22 316.53 L333.51 319.38 L333.51 316.53 L342.05 316.53 M333.51 326.50 L342.05 326.50 L342.05 323.65 L341.34 326.50 M347.95 308.70 L349.37 310.12 L350.80 312.26 L352.22 315.11 L352.93 318.67 L352.93 321.52 L352.22 325.08 L350.80 327.92 L349.37 330.06 L347.95 331.48 M349.37 310.12 L350.80 312.97 L351.51 315.11 L352.22 318.67 L352.22 321.52 L351.51 325.08 L350.80 327.21 L349.37 330.06"/><path transform="translate(0.22,0)" d="M196.78 311.55 L196.78 326.50 M197.50 311.55 L197.50 326.50 M194.65 311.55 L203.19 311.55 L205.33 312.26 L206.04 312.97 L206.75 314.40 L206.75 315.82 L206.04 317.24 L205.33 317.96 L203.19 318.67 L197.50 318.67 M203.19 311.55 L204.62 312.26 L205.33 312.97 L206.04 314.40 L206.04 315.82 L205.33 317.24 L204.62 317.96 L203.19 318.67 M194.65 326.50 L199.63 326.50 M201.06 318.67 L202.48 319.38 L203.19 320.09 L205.33 325.08 L206.04 325.79 L206.75 325.79 L207.46 325.08 M202.48 319.38 L203.19 320.80 L204.62 325.79 L205.33 326.50 L206.75 326.50 L207.46 325.08 L207.46 324.36 M213.87 320.80 L222.42 320.80 L222.42 319.38 L221.71 317.96 L220.99 317.24 L219.57 316.53 L217.43 316.53 L215.30 317.24 L213.87 318.67 L213.16 320.80 L213.16 322.23 L213.87 324.36 L215.30 325.79 L217.43 326.50 L218.86 326.50 L220.99 325.79 L222.42 324.36 M221.71 320.80 L221.71 318.67 L220.99 317.24 M217.43 316.53 L216.01 317.24 L214.59 318.67 L213.87 320.80 L213.87 322.23 L214.59 324.36 L216.01 325.79 L217.43 326.50 M237.17 311.55 L237.17 326.50 M237.88 311.55 L237.88 326.50 M237.17 318.67 L235.75 317.24 L234.32 316.53 L232.90 316.53 L230.76 317.24 L229.34 318.67 L228.63 320.80 L228.63 322.23 L229.34 324.36 L230.76 325.79 L232.90 326.50 L234.32 326.50 L235.75 325.79 L237.17 324.36 M232.90 316.53 L231.47 317.24 L230.05 318.67 L229.34 320.80 L229.34 322.23 L230.05 324.36 L231.47 325.79 L232.90 326.50 M235.03 311.55 L237.88 311.55 M237.17 326.50 L240.02 326.50 M252.63 317.96 L253.34 316.53 L253.34 319.38 L252.63 317.96 L251.92 317.24 L250.50 316.53 L247.65 316.53 L246.22 317.24 L245.51 317.96 L245.51 319.38 L246.22 320.09 L247.65 320.80 L251.21 322.23 L252.63 322.94 L253.34 323.65 M245.51 318.67 L246.22 319.38 L247.65 320.09 L251.21 321.52 L252.63 322.23 L253.34 322.94 L253.34 325.08 L252.63 325.79 L251.21 326.50 L248.36 326.50 L246.94 325.79 L246.22 325.08 L245.51 323.65 L245.51 326.50 L246.22 325.08 M261.08 311.55 L261.08 326.50 M261.79 311.55 L261.79 326.50 M261.79 318.67 L263.21 317.24 L265.35 316.53 L266.77 316.53 L268.91 317.24 L269.62 318.67 L269.62 326.50 M266.77 316.53 L268.20 317.24 L268.91 318.67 L268.91 326.50 M258.94 311.55 L261.79 311.55 M258.94 326.50 L263.92 326.50 M266.77 326.50 L271.76 326.50 M278.37 311.55 L277.66 312.26 L278.37 312.97 L279.08 312.26 L278.37 311.55 M278.37 316.53 L278.37 326.50 M279.08 316.53 L279.08 326.50 M276.23 316.53 L279.08 316.53 M276.23 326.50 L281.22 326.50 M291.08 312.26 L290.37 312.97 L291.08 313.68 L291.80 312.97 L291.80 312.26 L291.08 311.55 L289.66 311.55 L288.24 312.26 L287.52 313.68 L287.52 326.50 M289.66 311.55 L288.95 312.26 L288.24 313.68 L288.24 326.50 M285.39 316.53 L291.08 316.53 M285.39 326.50 L290.37 326.50 M298.10 311.55 L298.10 323.65 L298.82 325.79 L300.24 326.50 L301.66 326.50 L303.09 325.79 L303.80 324.36 M298.82 311.55 L298.82 323.65 L299.53 325.79 L300.24 326.50 M295.97 316.53 L301.66 316.53 M327.60 308.70 L326.18 310.12 L324.76 312.26 L323.33 315.11 L322.62 318.67 L322.62 321.52 L323.33 325.08 L324.76 327.92 L326.18 330.06 L327.60 331.48 M326.18 310.12 L324.76 312.97 L324.04 315.11 L323.33 318.67 L323.33 321.52 L324.04 325.08 L324.76 327.21 L326.18 330.06 M341.34 316.53 L333.51 326.50 M342.05 316.53 L334.22 326.50 M334.22 316.53 L333.51 319.38 L333.51 316.53 L342.05 316.53 M333.51 326.50 L342.05 326.50 L342.05 323.65 L341.34 326.50 M347.95 308.70 L349.37 310.12 L350.80 312.26 L352.22 315.11 L352.93 318.67 L352.93 321.52 L352.22 325.08 L350.80 327.92 L349.37 330.06 L347.95 331.48 M349.37 310.12 L350.80 312.97 L351.51 315.11 L352.22 318.67 L352.22 321.52 L351.51 325.08 L350.80 327.21 L349.37 330.06"/></g>
<g stroke="#000" stroke-width="1.05" fill="none" stroke-linecap="round" stroke-linejoin="round"><path id="t2" transform="translate(-0.22,0)" d="M571.58 311.55 L571.58 326.50 M572.30 311.55 L572.30 326.50 M569.45 311.55 L577.99 311.55 L580.13 312.26 L580.84 312.97 L581.55 314.40 L581.55 315.82 L580.84 317.24 L580.13 317.96 L577.99 318.67 L572.30 318.67 M577.99 311.55 L579.42 312.26 L580.13 312.97 L580.84 314.40 L580.84 315.82 L580.13 317.24 L579.42 317.96 L577.99 318.67 M569.45 326.50 L574.43 326.50 M575.86 318.67 L577.28 319.38 L577.99 320.09 L580.13 325.08 L580.84 325.79 L581.55 325.79 L582.26 325.08 M577.28 319.38 L577.99 320.80 L579.42 325.79 L580.13 326.50 L581.55 326.50 L582.26 325.08 L582.26 324.36 M588.67 320.80 L597.22 320.80 L597.22 319.38 L596.51 317.96 L595.79 317.24 L594.37 316.53 L592.23 316.53 L590.10 317.24 L588.67 318.67 L587.96 320.80 L587.96 322.23 L588.67 324.36 L590.10 325.79 L592.23 326.50 L593.66 326.50 L595.79 325.79 L597.22 324.36 M596.51 320.80 L596.51 318.67 L595.79 317.24 M592.23 316.53 L590.81 317.24 L589.39 318.67 L588.67 320.80 L588.67 322.23 L589.39 324.36 L590.81 325.79 L592.23 326.50 M611.97 311.55 L611.97 326.50 M612.68 311.55 L612.68 326.50 M611.97 318.67 L610.55 317.24 L609.12 316.53 L607.70 316.53 L605.56 317.24 L604.14 318.67 L603.43 320.80 L603.43 322.23 L604.14 324.36 L605.56 325.79 L607.70 326.50 L609.12 326.50 L610.55 325.79 L611.97 324.36 M607.70 316.53 L606.27 317.24 L604.85 318.67 L604.14 320.80 L604.14 322.23 L604.85 324.36 L606.27 325.79 L607.70 326.50 M609.83 311.55 L612.68 311.55 M611.97 326.50 L614.82 326.50 M627.43 317.96 L628.14 316.53 L628.14 319.38 L627.43 317.96 L626.72 317.24 L625.30 316.53 L622.45 316.53 L621.02 317.24 L620.31 317.96 L620.31 319.38 L621.02 320.09 L622.45 320.80 L626.01 322.23 L627.43 322.94 L628.14 323.65 M620.31 318.67 L621.02 319.38 L622.45 320.09 L626.01 321.52 L627.43 322.23 L628.14 322.94 L628.14 325.08 L627.43 325.79 L626.01 326.50 L623.16 326.50 L621.74 325.79 L621.02 325.08 L620.31 323.65 L620.31 326.50 L621.02 325.08 M635.88 311.55 L635.88 326.50 M636.59 311.55 L636.59 326.50 M636.59 318.67 L638.01 317.24 L640.15 316.53 L641.57 316.53 L643.71 317.24 L644.42 318.67 L644.42 326.50 M641.57 316.53 L643.00 317.24 L643.71 318.67 L643.71 326.50 M633.74 311.55 L636.59 311.55 M633.74 326.50 L638.72 326.50 M641.57 326.50 L646.56 326.50 M653.17 311.55 L652.46 312.26 L653.17 312.97 L653.88 312.26 L653.17 311.55 M653.17 316.53 L653.17 326.50 M653.88 316.53 L653.88 326.50 M651.03 316.53 L653.88 316.53 M651.03 326.50 L656.02 326.50 M665.88 312.26 L665.17 312.97 L665.88 313.68 L666.60 312.97 L666.60 312.26 L665.88 311.55 L664.46 311.55 L663.04 312.26 L662.32 313.68 L662.32 326.50 M664.46 311.55 L663.75 312.26 L663.04 313.68 L663.04 326.50 M660.19 316.53 L665.88 316.53 M660.19 326.50 L665.17 326.50 M672.90 311.55 L672.90 323.65 L673.62 325.79 L675.04 326.50 L676.46 326.50 L677.89 325.79 L678.60 324.36 M673.62 311.55 L673.62 323.65 L674.33 325.79 L675.04 326.50 M670.77 316.53 L676.46 316.53 M702.40 308.70 L700.98 310.12 L699.56 312.26 L698.13 315.11 L697.42 318.67 L697.42 321.52 L698.13 325.08 L699.56 327.92 L700.98 330.06 L702.40 331.48 M700.98 310.12 L699.56 312.97 L698.84 315.11 L698.13 318.67 L698.13 321.52 L698.84 325.08 L699.56 327.21 L700.98 330.06 M716.14 316.53 L708.31 326.50 M716.85 316.53 L709.02 326.50 M709.02 316.53 L708.31 319.38 L708.31 316.53 L716.85 316.53 M708.31 326.50 L716.85 326.50 L716.85 323.65 L716.14 326.50 M722.75 308.70 L724.17 310.12 L725.60 312.26 L727.02 315.11 L727.73 318.67 L727.73 321.52 L727.02 325.08 L725.60 327.92 L724.17 330.06 L722.75 331.48 M724.17 310.12 L725.60 312.97 L726.31 315.11 L727.02 318.67 L727.02 321.52 L726.31 325.08 L725.60 327.21 L724.17 330.06"/><path transform="translate(0.22,0)" d="M571.58 311.55 L571.58 326.50 M572.30 311.55 L572.30 326.50 M569.45 311.55 L577.99 311.55 L580.13 312.26 L580.84 312.97 L581.55 314.40 L581.55 315.82 L580.84 317.24 L580.13 317.96 L577.99 318.67 L572.30 318.67 M577.99 311.55 L579.42 312.26 L580.13 312.97 L580.84 314.40 L580.84 315.82 L580.13 317.24 L579.42 317.96 L577.99 318.67 M569.45 326.50 L574.43 326.50 M575.86 318.67 L577.28 319.38 L577.99 320.09 L580.13 325.08 L580.84 325.79 L581.55 325.79 L582.26 325.08 M577.28 319.38 L577.99 320.80 L579.42 325.79 L580.13 326.50 L581.55 326.50 L582.26 325.08 L582.26 324.36 M588.67 320.80 L597.22 320.80 L597.22 319.38 L596.51 317.96 L595.79 317.24 L594.37 316.53 L592.23 316.53 L590.10 317.24 L588.67 318.67 L587.96 320.80 L587.96 322.23 L588.67 324.36 L590.10 325.79 L592.23 326.50 L593.66 326.50 L595.79 325.79 L597.22 324.36 M596.51 320.80 L596.51 318.67 L595.79 317.24 M592.23 316.53 L590.81 317.24 L589.39 318.67 L588.67 320.80 L588.67 322.23 L589.39 324.36 L590.81 325.79 L592.23 326.50 M611.97 311.55 L611.97 326.50 M612.68 311.55 L612.68 326.50 M611.97 318.67 L610.55 317.24 L609.12 316.53 L607.70 316.53 L605.56 317.24 L604.14 318.67 L603.43 320.80 L603.43 322.23 L604.14 324.36 L605.56 325.79 L607.70 326.50 L609.12 326.50 L610.55 325.79 L611.97 324.36 M607.70 316.53 L606.27 317.24 L604.85 318.67 L604.14 320.80 L604.14 322.23 L604.85 324.36 L606.27 325.79 L607.70 326.50 M609.83 311.55 L612.68 311.55 M611.97 326.50 L614.82 326.50 M627.43 317.96 L628.14 316.53 L628.14 319.38 L627.43 317.96 L626.72 317.24 L625.30 316.53 L622.45 316.53 L621.02 317.24 L620.31 317.96 L620.31 319.38 L621.02 320.09 L622.45 320.80 L626.01 322.23 L627.43 322.94 L628.14 323.65 M620.31 318.67 L621.02 319.38 L622.45 320.09 L626.01 321.52 L627.43 322.23 L628.14 322.94 L628.14 325.08 L627.43 325.79 L626.01 326.50 L623.16 326.50 L621.74 325.79 L621.02 325.08 L620.31 323.65 L620.31 326.50 L621.02 325.08 M635.88 311.55 L635.88 326.50 M636.59 311.55 L636.59 326.50 M636.59 318.67 L638.01 317.24 L640.15 316.53 L641.57 316.53 L643.71 317.24 L644.42 318.67 L644.42 326.50 M641.57 316.53 L643.00 317.24 L643.71 318.67 L643.71 326.50 M633.74 311.55 L636.59 311.55 M633.74 326.50 L638.72 326.50 M641.57 326.50 L646.56 326.50 M653.17 311.55 L652.46 312.26 L653.17 312.97 L653.88 312.26 L653.17 311.55 M653.17 316.53 L653.17 326.50 M653.88 316.53 L653.88 326.50 M651.03 316.53 L653.88 316.53 M651.03 326.50 L656.02 326.50 M665.88 312.26 L665.17 312.97 L665.88 313.68 L666.60 312.97 L666.60 312.26 L665.88 311.55 L664.46 311.55 L663.04 312.26 L662.32 313.68 L662.32 326.50 M664.46 311.55 L663.75 312.26 L663.04 313.68 L663.04 326.50 M660.19 316.53 L665.88 316.53 M660.19 326.50 L665.17 326.50 M672.90 311.55 L672.90 323.65 L673.62 325.79 L675.04 326.50 L676.46 326.50 L677.89 325.79 L678.60 324.36 M673.62 311.55 L673.62 323.65 L674.33 325.79 L675.04 326.50 M670.77 316.53 L676.46 316.53 M702.40 308.70 L700.98 310.12 L699.56 312.26 L698.13 315.11 L697.42 318.67 L697.42 321.52 L698.13 325.08 L699.56 327.92 L700.98 330.06 L702.40 331.48 M700.98 310.12 L699.56 312.97 L698.84 315.11 L698.13 318.67 L698.13 321.52 L698.84 325.08 L699.56 327.21 L700.98 330.06 M716.14 316.53 L708.31 326.50 M716.85 316.53 L709.02 326.50 M709.02 316.53 L708.31 319.38 L708.31 316.53 L716.85 316.53 M708.31 326.50 L716.85 326.50 L716.85 323.65 L716.14 326.50 M722.75 308.70 L724.17 310.12 L725.60 312.26 L727.02 315.11 L727.73 318.67 L727.73 321.52 L727.02 325.08 L725.60 327.92 L724.17 330.06 L722.75 331.48 M724.17 310.12 L725.60 312.97 L726.31 315.11 L727.02 318.67 L727.02 321.52 L726.31 325.08 L725.60 327.21 L724.17 330.06"/></g>
<g transform="translate(18.2,131.8) rotate(-90)">
<path d="M-31.74 -14.95 L-31.74 0.00 M-31.03 -14.95 L-31.03 0.00 M-33.87 -14.95 L-31.03 -14.95 M-33.87 0.00 L-28.89 0.00 M-19.43 -9.97 L-21.57 -9.26 L-22.99 -7.83 L-23.70 -5.70 L-23.70 -4.27 L-22.99 -2.14 L-21.57 -0.71 L-19.43 0.00 L-18.01 0.00 L-15.87 -0.71 L-14.45 -2.14 L-13.73 -4.27 L-13.73 -5.70 L-14.45 -7.83 L-15.87 -9.26 L-18.01 -9.97 L-19.43 -9.97 M-19.43 -9.97 L-20.85 -9.26 L-22.28 -7.83 L-22.99 -5.70 L-22.99 -4.27 L-22.28 -2.14 L-20.85 -0.71 L-19.43 0.00 M-18.01 0.00 L-16.58 -0.71 L-15.16 -2.14 L-14.45 -4.27 L-14.45 -5.70 L-15.16 -7.83 L-16.58 -9.26 L-18.01 -9.97 M-3.97 -9.97 L-5.39 -9.26 L-6.10 -8.54 L-6.82 -7.12 L-6.82 -5.70 L-6.10 -4.27 L-5.39 -3.56 L-3.97 -2.85 L-2.54 -2.85 L-1.12 -3.56 L-0.41 -4.27 L0.30 -5.70 L0.30 -7.12 L-0.41 -8.54 L-1.12 -9.26 L-2.54 -9.97 L-3.97 -9.97 M-5.39 -9.26 L-6.10 -7.83 L-6.10 -4.98 L-5.39 -3.56 M-1.12 -3.56 L-0.41 -4.98 L-0.41 -7.83 L-1.12 -9.26 M-0.41 -8.54 L0.30 -9.26 L1.73 -9.97 L1.73 -9.26 L0.30 -9.26 M-6.10 -4.27 L-6.82 -3.56 L-7.53 -2.14 L-7.53 -1.42 L-6.82 0.00 L-4.68 0.71 L-1.12 0.71 L1.02 1.42 L1.73 2.14 M-7.53 -1.42 L-6.82 -0.71 L-4.68 0.00 L-1.12 0.00 L1.02 0.71 L1.73 2.14 L1.73 2.85 L1.02 4.27 L-1.12 4.98 L-5.39 4.98 L-7.53 4.27 L-8.24 2.85 L-8.24 2.14 L-7.53 0.71 L-5.39 0.00 M22.58 -14.95 L22.58 0.00 M23.30 -14.95 L23.30 0.00 M20.45 -14.95 L27.57 -14.95 L29.70 -14.24 L31.13 -12.82 L31.84 -11.39 L32.55 -9.26 L32.55 -5.70 L31.84 -3.56 L31.13 -2.14 L29.70 -0.71 L27.57 0.00 L20.45 0.00 M27.57 -14.95 L28.99 -14.24 L30.42 -12.82 L31.13 -11.39 L31.84 -9.26 L31.84 -5.70 L31.13 -3.56 L30.42 -2.14 L28.99 -0.71 L27.57 0.00" stroke="#000" stroke-width="1.25" fill="none" stroke-linecap="round" stroke-linejoin="round"/>
</g>
<g stroke="#0000ff" stroke-width="1.95" fill="none" stroke-linecap="round" stroke-linejoin="round"><path id="t3" transform="translate(-0.35,0)" d="M271.57 22.14 L273.79 33.80 M272.13 22.14 L273.79 31.02 M276.01 22.14 L273.79 33.80 M276.01 22.14 L278.23 33.80 M276.57 22.14 L278.23 31.02 M280.45 22.14 L278.23 33.80 M269.91 22.14 L273.79 22.14 M278.79 22.14 L282.12 22.14 M286.99 29.36 L293.65 29.36 L293.65 28.25 L293.10 27.14 L292.54 26.58 L291.43 26.03 L289.77 26.03 L288.10 26.58 L286.99 27.69 L286.44 29.36 L286.44 30.47 L286.99 32.13 L288.10 33.24 L289.77 33.80 L290.88 33.80 L292.54 33.24 L293.65 32.13 M293.10 29.36 L293.10 27.69 L292.54 26.58 M289.77 26.03 L288.66 26.58 L287.55 27.69 L286.99 29.36 L286.99 30.47 L287.55 32.13 L288.66 33.24 L289.77 33.80 M300.19 27.14 L300.19 27.69 L299.64 27.69 L299.64 27.14 L300.19 26.58 L301.30 26.03 L303.52 26.03 L304.63 26.58 L305.19 27.14 L305.74 28.25 L305.74 32.13 L306.30 33.24 L306.85 33.80 M305.19 27.14 L305.19 32.13 L305.74 33.24 L306.85 33.80 L307.41 33.80 M305.19 28.25 L304.63 28.80 L301.30 29.36 L299.64 29.91 L299.08 31.02 L299.08 32.13 L299.64 33.24 L301.30 33.80 L302.97 33.80 L304.08 33.24 L305.19 32.13 M301.30 29.36 L300.19 29.91 L299.64 31.02 L299.64 32.13 L300.19 33.24 L301.30 33.80 M313.39 22.14 L313.39 33.80 M313.95 22.14 L313.95 33.80 M319.50 26.03 L313.95 31.58 M316.72 29.36 L320.05 33.80 M316.17 29.36 L319.50 33.80 M311.73 22.14 L313.95 22.14 M317.83 26.03 L321.16 26.03 M311.73 33.80 L315.61 33.80 M317.83 33.80 L321.16 33.80 M344.23 23.81 L344.79 22.14 L344.79 25.47 L344.23 23.81 L343.12 22.70 L341.46 22.14 L339.79 22.14 L338.13 22.70 L337.02 23.81 L337.02 24.92 L337.57 26.03 L338.13 26.58 L339.24 27.14 L342.57 28.25 L343.68 28.80 L344.79 29.91 M337.02 24.92 L338.13 26.03 L339.24 26.58 L342.57 27.69 L343.68 28.25 L344.23 28.80 L344.79 29.91 L344.79 32.13 L343.68 33.24 L342.01 33.80 L340.35 33.80 L338.68 33.24 L337.57 32.13 L337.02 30.47 L337.02 33.80 L337.57 32.13 M351.33 22.14 L351.33 33.80 M351.88 22.14 L358.54 32.69 M351.88 23.25 L358.54 33.80 M358.54 22.14 L358.54 33.80 M349.66 22.14 L351.88 22.14 M356.88 22.14 L360.21 22.14 M349.66 33.80 L352.99 33.80 M366.19 22.14 L366.19 33.80 M366.75 22.14 L366.75 33.80 M370.08 25.47 L370.08 29.91 M364.53 22.14 L373.41 22.14 L373.41 25.47 L372.85 22.14 M366.75 27.69 L370.08 27.69 M364.53 33.80 L368.41 33.80"/><path transform="translate(0.35,0)" d="M271.57 22.14 L273.79 33.80 M272.13 22.14 L273.79 31.02 M276.01 22.14 L273.79 33.80 M276.01 22.14 L278.23 33.80 M276.57 22.14 L278.23 31.02 M280.45 22.14 L278.23 33.80 M269.91 22.14 L273.79 22.14 M278.79 22.14 L282.12 22.14 M286.99 29.36 L293.65 29.36 L293.65 28.25 L293.10 27.14 L292.54 26.58 L291.43 26.03 L289.77 26.03 L288.10 26.58 L286.99 27.69 L286.44 29.36 L286.44 30.47 L286.99 32.13 L288.10 33.24 L289.77 33.80 L290.88 33.80 L292.54 33.24 L293.65 32.13 M293.10 29.36 L293.10 27.69 L292.54 26.58 M289.77 26.03 L288.66 26.58 L287.55 27.69 L286.99 29.36 L286.99 30.47 L287.55 32.13 L288.66 33.24 L289.77 33.80 M300.19 27.14 L300.19 27.69 L299.64 27.69 L299.64 27.14 L300.19 26.58 L301.30 26.03 L303.52 26.03 L304.63 26.58 L305.19 27.14 L305.74 28.25 L305.74 32.13 L306.30 33.24 L306.85 33.80 M305.19 27.14 L305.19 32.13 L305.74 33.24 L306.85 33.80 L307.41 33.80 M305.19 28.25 L304.63 28.80 L301.30 29.36 L299.64 29.91 L299.08 31.02 L299.08 32.13 L299.64 33.24 L301.30 33.80 L302.97 33.80 L304.08 33.24 L305.19 32.13 M301.30 29.36 L300.19 29.91 L299.64 31.02 L299.64 32.13 L300.19 33.24 L301.30 33.80 M313.39 22.14 L313.39 33.80 M313.95 22.14 L313.95 33.80 M319.50 26.03 L313.95 31.58 M316.72 29.36 L320.05 33.80 M316.17 29.36 L319.50 33.80 M311.73 22.14 L313.95 22.14 M317.83 26.03 L321.16 26.03 M311.73 33.80 L315.61 33.80 M317.83 33.80 L321.16 33.80 M344.23 23.81 L344.79 22.14 L344.79 25.47 L344.23 23.81 L343.12 22.70 L341.46 22.14 L339.79 22.14 L338.13 22.70 L337.02 23.81 L337.02 24.92 L337.57 26.03 L338.13 26.58 L339.24 27.14 L342.57 28.25 L343.68 28.80 L344.79 29.91 M337.02 24.92 L338.13 26.03 L339.24 26.58 L342.57 27.69 L343.68 28.25 L344.23 28.80 L344.79 29.91 L344.79 32.13 L343.68 33.24 L342.01 33.80 L340.35 33.80 L338.68 33.24 L337.57 32.13 L337.02 30.47 L337.02 33.80 L337.57 32.13 M351.33 22.14 L351.33 33.80 M351.88 22.14 L358.54 32.69 M351.88 23.25 L358.54 33.80 M358.54 22.14 L358.54 33.80 M349.66 22.14 L351.88 22.14 M356.88 22.14 L360.21 22.14 M349.66 33.80 L352.99 33.80 M366.19 22.14 L366.19 33.80 M366.75 22.14 L366.75 33.80 M370.08 25.47 L370.08 29.91 M364.53 22.14 L373.41 22.14 L373.41 25.47 L372.85 22.14 M366.75 27.69 L370.08 27.69 M364.53 33.80 L368.41 33.80"/></g>
<g stroke="#ff0000" stroke-width="1.95" fill="none" stroke-linecap="round" stroke-linejoin="round"><path id="t4" transform="translate(-0.35,0)" d="M272.13 49.05 L272.13 60.70 M272.68 49.05 L276.01 59.04 M272.13 49.05 L276.01 60.70 M279.90 49.05 L276.01 60.70 M279.90 49.05 L279.90 60.70 M280.45 49.05 L280.45 60.70 M270.46 49.05 L272.68 49.05 M279.90 49.05 L282.12 49.05 M270.46 60.70 L273.79 60.70 M278.23 60.70 L282.12 60.70 M290.32 52.93 L288.66 53.48 L287.55 54.59 L286.99 56.26 L286.99 57.37 L287.55 59.04 L288.66 60.15 L290.32 60.70 L291.43 60.70 L293.10 60.15 L294.21 59.04 L294.76 57.37 L294.76 56.26 L294.21 54.59 L293.10 53.48 L291.43 52.93 L290.32 52.93 M290.32 52.93 L289.21 53.48 L288.10 54.59 L287.55 56.26 L287.55 57.37 L288.10 59.04 L289.21 60.15 L290.32 60.70 M291.43 60.70 L292.54 60.15 L293.65 59.04 L294.21 57.37 L294.21 56.26 L293.65 54.59 L292.54 53.48 L291.43 52.93 M306.85 49.05 L306.85 60.70 M307.41 49.05 L307.41 60.70 M306.85 54.59 L305.74 53.48 L304.63 52.93 L303.52 52.93 L301.86 53.48 L300.75 54.59 L300.19 56.26 L300.19 57.37 L300.75 59.04 L301.86 60.15 L303.52 60.70 L304.63 60.70 L305.74 60.15 L306.85 59.04 M303.52 52.93 L302.41 53.48 L301.30 54.59 L300.75 56.26 L300.75 57.37 L301.30 59.04 L302.41 60.15 L303.52 60.70 M305.19 49.05 L307.41 49.05 M306.85 60.70 L309.07 60.70 M314.50 56.26 L321.16 56.26 L321.16 55.15 L320.61 54.04 L320.05 53.48 L318.94 52.93 L317.28 52.93 L315.61 53.48 L314.50 54.59 L313.95 56.26 L313.95 57.37 L314.50 59.04 L315.61 60.15 L317.28 60.70 L318.39 60.70 L320.05 60.15 L321.16 59.04 M320.61 56.26 L320.61 54.59 L320.05 53.48 M317.28 52.93 L316.17 53.48 L315.06 54.59 L314.50 56.26 L314.50 57.37 L315.06 59.04 L316.17 60.15 L317.28 60.70 M327.70 52.93 L327.70 60.70 M328.25 52.93 L328.25 60.70 M328.25 56.26 L328.81 54.59 L329.92 53.48 L331.03 52.93 L332.69 52.93 L333.25 53.48 L333.25 54.04 L332.69 54.59 L332.14 54.04 L332.69 53.48 M326.04 52.93 L328.25 52.93 M326.04 60.70 L329.92 60.70 M339.24 54.04 L339.24 54.59 L338.68 54.59 L338.68 54.04 L339.24 53.48 L340.35 52.93 L342.57 52.93 L343.68 53.48 L344.23 54.04 L344.79 55.15 L344.79 59.04 L345.34 60.15 L345.90 60.70 M344.23 54.04 L344.23 59.04 L344.79 60.15 L345.90 60.70 L346.45 60.70 M344.23 55.15 L343.68 55.71 L340.35 56.26 L338.68 56.82 L338.13 57.93 L338.13 59.04 L338.68 60.15 L340.35 60.70 L342.01 60.70 L343.12 60.15 L344.23 59.04 M340.35 56.26 L339.24 56.82 L338.68 57.93 L338.68 59.04 L339.24 60.15 L340.35 60.70 M352.44 49.05 L352.44 58.48 L352.99 60.15 L354.10 60.70 L355.21 60.70 L356.32 60.15 L356.88 59.04 M352.99 49.05 L352.99 58.48 L353.55 60.15 L354.10 60.70 M350.77 52.93 L355.21 52.93 M362.31 56.26 L368.97 56.26 L368.97 55.15 L368.41 54.04 L367.86 53.48 L366.75 52.93 L365.08 52.93 L363.42 53.48 L362.31 54.59 L361.75 56.26 L361.75 57.37 L362.31 59.04 L363.42 60.15 L365.08 60.70 L366.19 60.70 L367.86 60.15 L368.97 59.04 M368.41 56.26 L368.41 54.59 L367.86 53.48 M365.08 52.93 L363.97 53.48 L362.86 54.59 L362.31 56.26 L362.31 57.37 L362.86 59.04 L363.97 60.15 L365.08 60.70 M392.59 50.71 L393.15 49.05 L393.15 52.38 L392.59 50.71 L391.48 49.60 L389.82 49.05 L388.15 49.05 L386.49 49.60 L385.38 50.71 L385.38 51.82 L385.93 52.93 L386.49 53.48 L387.60 54.04 L390.93 55.15 L392.04 55.71 L393.15 56.82 M385.38 51.82 L386.49 52.93 L387.60 53.48 L390.93 54.59 L392.04 55.15 L392.59 55.71 L393.15 56.82 L393.15 59.04 L392.04 60.15 L390.37 60.70 L388.71 60.70 L387.04 60.15 L385.93 59.04 L385.38 57.37 L385.38 60.70 L385.93 59.04 M399.69 49.05 L399.69 60.70 M400.24 49.05 L406.90 59.59 M400.24 50.16 L406.90 60.70 M406.90 49.05 L406.90 60.70 M398.02 49.05 L400.24 49.05 M405.24 49.05 L408.57 49.05 M398.02 60.70 L401.35 60.70 M414.55 49.05 L414.55 60.70 M415.11 49.05 L415.11 60.70 M418.44 52.38 L418.44 56.82 M412.89 49.05 L421.77 49.05 L421.77 52.38 L421.21 49.05 M415.11 54.59 L418.44 54.59 M412.89 60.70 L416.77 60.70"/><path transform="translate(0.35,0)" d="M272.13 49.05 L272.13 60.70 M272.68 49.05 L276.01 59.04 M272.13 49.05 L276.01 60.70 M279.90 49.05 L276.01 60.70 M279.90 49.05 L279.90 60.70 M280.45 49.05 L280.45 60.70 M270.46 49.05 L272.68 49.05 M279.90 49.05 L282.12 49.05 M270.46 60.70 L273.79 60.70 M278.23 60.70 L282.12 60.70 M290.32 52.93 L288.66 53.48 L287.55 54.59 L286.99 56.26 L286.99 57.37 L287.55 59.04 L288.66 60.15 L290.32 60.70 L291.43 60.70 L293.10 60.15 L294.21 59.04 L294.76 57.37 L294.76 56.26 L294.21 54.59 L293.10 53.48 L291.43 52.93 L290.32 52.93 M290.32 52.93 L289.21 53.48 L288.10 54.59 L287.55 56.26 L287.55 57.37 L288.10 59.04 L289.21 60.15 L290.32 60.70 M291.43 60.70 L292.54 60.15 L293.65 59.04 L294.21 57.37 L294.21 56.26 L293.65 54.59 L292.54 53.48 L291.43 52.93 M306.85 49.05 L306.85 60.70 M307.41 49.05 L307.41 60.70 M306.85 54.59 L305.74 53.48 L304.63 52.93 L303.52 52.93 L301.86 53.48 L300.75 54.59 L300.19 56.26 L300.19 57.37 L300.75 59.04 L301.86 60.15 L303.52 60.70 L304.63 60.70 L305.74 60.15 L306.85 59.04 M303.52 52.93 L302.41 53.48 L301.30 54.59 L300.75 56.26 L300.75 57.37 L301.30 59.04 L302.41 60.15 L303.52 60.70 M305.19 49.05 L307.41 49.05 M306.85 60.70 L309.07 60.70 M314.50 56.26 L321.16 56.26 L321.16 55.15 L320.61 54.04 L320.05 53.48 L318.94 52.93 L317.28 52.93 L315.61 53.48 L314.50 54.59 L313.95 56.26 L313.95 57.37 L314.50 59.04 L315.61 60.15 L317.28 60.70 L318.39 60.70 L320.05 60.15 L321.16 59.04 M320.61 56.26 L320.61 54.59 L320.05 53.48 M317.28 52.93 L316.17 53.48 L315.06 54.59 L314.50 56.26 L314.50 57.37 L315.06 59.04 L316.17 60.15 L317.28 60.70 M327.70 52.93 L327.70 60.70 M328.25 52.93 L328.25 60.70 M328.25 56.26 L328.81 54.59 L329.92 53.48 L331.03 52.93 L332.69 52.93 L333.25 53.48 L333.25 54.04 L332.69 54.59 L332.14 54.04 L332.69 53.48 M326.04 52.93 L328.25 52.93 M326.04 60.70 L329.92 60.70 M339.24 54.04 L339.24 54.59 L338.68 54.59 L338.68 54.04 L339.24 53.48 L340.35 52.93 L342.57 52.93 L343.68 53.48 L344.23 54.04 L344.79 55.15 L344.79 59.04 L345.34 60.15 L345.90 60.70 M344.23 54.04 L344.23 59.04 L344.79 60.15 L345.90 60.70 L346.45 60.70 M344.23 55.15 L343.68 55.71 L340.35 56.26 L338.68 56.82 L338.13 57.93 L338.13 59.04 L338.68 60.15 L340.35 60.70 L342.01 60.70 L343.12 60.15 L344.23 59.04 M340.35 56.26 L339.24 56.82 L338.68 57.93 L338.68 59.04 L339.24 60.15 L340.35 60.70 M352.44 49.05 L352.44 58.48 L352.99 60.15 L354.10 60.70 L355.21 60.70 L356.32 60.15 L356.88 59.04 M352.99 49.05 L352.99 58.48 L353.55 60.15 L354.10 60.70 M350.77 52.93 L355.21 52.93 M362.31 56.26 L368.97 56.26 L368.97 55.15 L368.41 54.04 L367.86 53.48 L366.75 52.93 L365.08 52.93 L363.42 53.48 L362.31 54.59 L361.75 56.26 L361.75 57.37 L362.31 59.04 L363.42 60.15 L365.08 60.70 L366.19 60.70 L367.86 60.15 L368.97 59.04 M368.41 56.26 L368.41 54.59 L367.86 53.48 M365.08 52.93 L363.97 53.48 L362.86 54.59 L362.31 56.26 L362.31 57.37 L362.86 59.04 L363.97 60.15 L365.08 60.70 M392.59 50.71 L393.15 49.05 L393.15 52.38 L392.59 50.71 L391.48 49.60 L389.82 49.05 L388.15 49.05 L386.49 49.60 L385.38 50.71 L385.38 51.82 L385.93 52.93 L386.49 53.48 L387.60 54.04 L390.93 55.15 L392.04 55.71 L393.15 56.82 M385.38 51.82 L386.49 52.93 L387.60 53.48 L390.93 54.59 L392.04 55.15 L392.59 55.71 L393.15 56.82 L393.15 59.04 L392.04 60.15 L390.37 60.70 L388.71 60.70 L387.04 60.15 L385.93 59.04 L385.38 57.37 L385.38 60.70 L385.93 59.04 M399.69 49.05 L399.69 60.70 M400.24 49.05 L406.90 59.59 M400.24 50.16 L406.90 60.70 M406.90 49.05 L406.90 60.70 M398.02 49.05 L400.24 49.05 M405.24 49.05 L408.57 49.05 M398.02 60.70 L401.35 60.70 M414.55 49.05 L414.55 60.70 M415.11 49.05 L415.11 60.70 M418.44 52.38 L418.44 56.82 M412.89 49.05 L421.77 49.05 L421.77 52.38 L421.21 49.05 M415.11 54.59 L418.44 54.59 M412.89 60.70 L416.77 60.70"/></g>
<g stroke="#00ff00" stroke-width="1.95" fill="none" stroke-linecap="round" stroke-linejoin="round"><path id="t5" transform="translate(-0.35,0)" d="M278.23 77.61 L278.79 75.94 L278.79 79.27 L278.23 77.61 L277.12 76.50 L275.46 75.94 L273.79 75.94 L272.13 76.50 L271.02 77.61 L271.02 78.72 L271.57 79.83 L272.13 80.38 L273.24 80.94 L276.57 82.05 L277.68 82.60 L278.79 83.71 M271.02 78.72 L272.13 79.83 L273.24 80.38 L276.57 81.49 L277.68 82.05 L278.23 82.60 L278.79 83.71 L278.79 85.93 L277.68 87.04 L276.01 87.60 L274.35 87.60 L272.68 87.04 L271.57 85.93 L271.02 84.27 L271.02 87.60 L271.57 85.93 M285.32 75.94 L285.32 85.38 L285.88 87.04 L286.99 87.60 L288.10 87.60 L289.21 87.04 L289.76 85.93 M285.88 75.94 L285.88 85.38 L286.44 87.04 L286.99 87.60 M283.66 79.83 L288.10 79.83 M295.75 79.83 L295.75 87.60 M296.31 79.83 L296.31 87.60 M296.31 83.16 L296.86 81.49 L297.97 80.38 L299.08 79.83 L300.75 79.83 L301.30 80.38 L301.30 80.94 L300.75 81.49 L300.19 80.94 L300.75 80.38 M294.09 79.83 L296.31 79.83 M294.09 87.60 L297.97 87.60 M309.51 79.83 L307.84 80.38 L306.73 81.49 L306.18 83.16 L306.18 84.27 L306.73 85.93 L307.84 87.04 L309.51 87.60 L310.62 87.60 L312.28 87.04 L313.39 85.93 L313.95 84.27 L313.95 83.16 L313.39 81.49 L312.28 80.38 L310.62 79.83 L309.51 79.83 M309.51 79.83 L308.40 80.38 L307.29 81.49 L306.73 83.16 L306.73 84.27 L307.29 85.93 L308.40 87.04 L309.51 87.60 M310.62 87.60 L311.73 87.04 L312.84 85.93 L313.39 84.27 L313.39 83.16 L312.84 81.49 L311.73 80.38 L310.62 79.83 M320.49 79.83 L320.49 87.60 M321.04 79.83 L321.04 87.60 M321.04 81.49 L322.15 80.38 L323.82 79.83 L324.93 79.83 L326.59 80.38 L327.15 81.49 L327.15 87.60 M324.93 79.83 L326.04 80.38 L326.59 81.49 L326.59 87.60 M318.82 79.83 L321.04 79.83 M318.82 87.60 L322.71 87.60 M324.93 87.60 L328.81 87.60 M336.46 79.83 L335.35 80.38 L334.80 80.94 L334.24 82.05 L334.24 83.16 L334.80 84.27 L335.35 84.82 L336.46 85.38 L337.57 85.38 L338.68 84.82 L339.24 84.27 L339.79 83.16 L339.79 82.05 L339.24 80.94 L338.68 80.38 L337.57 79.83 L336.46 79.83 M335.35 80.38 L334.80 81.49 L334.80 83.71 L335.35 84.82 M338.68 84.82 L339.24 83.71 L339.24 81.49 L338.68 80.38 M339.24 80.94 L339.79 80.38 L340.90 79.83 L340.90 80.38 L339.79 80.38 M334.80 84.27 L334.24 84.82 L333.69 85.93 L333.69 86.49 L334.24 87.60 L335.91 88.16 L338.68 88.16 L340.35 88.71 L340.90 89.27 M333.69 86.49 L334.24 87.04 L335.91 87.60 L338.68 87.60 L340.35 88.16 L340.90 89.27 L340.90 89.82 L340.35 90.93 L338.68 91.48 L335.35 91.48 L333.69 90.93 L333.13 89.82 L333.13 89.27 L333.69 88.16 L335.35 87.60 M364.53 77.61 L365.08 75.94 L365.08 79.27 L364.53 77.61 L363.42 76.50 L361.75 75.94 L360.09 75.94 L358.42 76.50 L357.31 77.61 L357.31 78.72 L357.87 79.83 L358.42 80.38 L359.53 80.94 L362.86 82.05 L363.97 82.60 L365.08 83.71 M357.31 78.72 L358.42 79.83 L359.53 80.38 L362.86 81.49 L363.97 82.05 L364.53 82.60 L365.08 83.71 L365.08 85.93 L363.97 87.04 L362.31 87.60 L360.64 87.60 L358.98 87.04 L357.87 85.93 L357.31 84.27 L357.31 87.60 L357.87 85.93 M371.62 75.94 L371.62 87.60 M372.18 75.94 L378.84 86.49 M372.18 77.05 L378.84 87.60 M378.84 75.94 L378.84 87.60 M369.96 75.94 L372.18 75.94 M377.17 75.94 L380.50 75.94 M369.96 87.60 L373.29 87.60 M386.49 75.94 L386.49 87.60 M387.04 75.94 L387.04 87.60 M390.37 79.27 L390.37 83.71 M384.82 75.94 L393.70 75.94 L393.70 79.27 L393.15 75.94 M387.04 81.49 L390.37 81.49 M384.82 87.60 L388.71 87.60"/><path transform="translate(0.35,0)" d="M278.23 77.61 L278.79 75.94 L278.79 79.27 L278.23 77.61 L277.12 76.50 L275.46 75.94 L273.79 75.94 L272.13 76.50 L271.02 77.61 L271.02 78.72 L271.57 79.83 L272.13 80.38 L273.24 80.94 L276.57 82.05 L277.68 82.60 L278.79 83.71 M271.02 78.72 L272.13 79.83 L273.24 80.38 L276.57 81.49 L277.68 82.05 L278.23 82.60 L278.79 83.71 L278.79 85.93 L277.68 87.04 L276.01 87.60 L274.35 87.60 L272.68 87.04 L271.57 85.93 L271.02 84.27 L271.02 87.60 L271.57 85.93 M285.32 75.94 L285.32 85.38 L285.88 87.04 L286.99 87.60 L288.10 87.60 L289.21 87.04 L289.76 85.93 M285.88 75.94 L285.88 85.38 L286.44 87.04 L286.99 87.60 M283.66 79.83 L288.10 79.83 M295.75 79.83 L295.75 87.60 M296.31 79.83 L296.31 87.60 M296.31 83.16 L296.86 81.49 L297.97 80.38 L299.08 79.83 L300.75 79.83 L301.30 80.38 L301.30 80.94 L300.75 81.49 L300.19 80.94 L300.75 80.38 M294.09 79.83 L296.31 79.83 M294.09 87.60 L297.97 87.60 M309.51 79.83 L307.84 80.38 L306.73 81.49 L306.18 83.16 L306.18 84.27 L306.73 85.93 L307.84 87.04 L309.51 87.60 L310.62 87.60 L312.28 87.04 L313.39 85.93 L313.95 84.27 L313.95 83.16 L313.39 81.49 L312.28 80.38 L310.62 79.83 L309.51 79.83 M309.51 79.83 L308.40 80.38 L307.29 81.49 L306.73 83.16 L306.73 84.27 L307.29 85.93 L308.40 87.04 L309.51 87.60 M310.62 87.60 L311.73 87.04 L312.84 85.93 L313.39 84.27 L313.39 83.16 L312.84 81.49 L311.73 80.38 L310.62 79.83 M320.49 79.83 L320.49 87.60 M321.04 79.83 L321.04 87.60 M321.04 81.49 L322.15 80.38 L323.82 79.83 L324.93 79.83 L326.59 80.38 L327.15 81.49 L327.15 87.60 M324.93 79.83 L326.04 80.38 L326.59 81.49 L326.59 87.60 M318.82 79.83 L321.04 79.83 M318.82 87.60 L322.71 87.60 M324.93 87.60 L328.81 87.60 M336.46 79.83 L335.35 80.38 L334.80 80.94 L334.24 82.05 L334.24 83.16 L334.80 84.27 L335.35 84.82 L336.46 85.38 L337.57 85.38 L338.68 84.82 L339.24 84.27 L339.79 83.16 L339.79 82.05 L339.24 80.94 L338.68 80.38 L337.57 79.83 L336.46 79.83 M335.35 80.38 L334.80 81.49 L334.80 83.71 L335.35 84.82 M338.68 84.82 L339.24 83.71 L339.24 81.49 L338.68 80.38 M339.24 80.94 L339.79 80.38 L340.90 79.83 L340.90 80.38 L339.79 80.38 M334.80 84.27 L334.24 84.82 L333.69 85.93 L333.69 86.49 L334.24 87.60 L335.91 88.16 L338.68 88.16 L340.35 88.71 L340.90 89.27 M333.69 86.49 L334.24 87.04 L335.91 87.60 L338.68 87.60 L340.35 88.16 L340.90 89.27 L340.90 89.82 L340.35 90.93 L338.68 91.48 L335.35 91.48 L333.69 90.93 L333.13 89.82 L333.13 89.27 L333.69 88.16 L335.35 87.60 M364.53 77.61 L365.08 75.94 L365.08 79.27 L364.53 77.61 L363.42 76.50 L361.75 75.94 L360.09 75.94 L358.42 76.50 L357.31 77.61 L357.31 78.72 L357.87 79.83 L358.42 80.38 L359.53 80.94 L362.86 82.05 L363.97 82.60 L365.08 83.71 M357.31 78.72 L358.42 79.83 L359.53 80.38 L362.86 81.49 L363.97 82.05 L364.53 82.60 L365.08 83.71 L365.08 85.93 L363.97 87.04 L362.31 87.60 L360.64 87.60 L358.98 87.04 L357.87 85.93 L357.31 84.27 L357.31 87.60 L357.87 85.93 M371.62 75.94 L371.62 87.60 M372.18 75.94 L378.84 86.49 M372.18 77.05 L378.84 87.60 M378.84 75.94 L378.84 87.60 M369.96 75.94 L372.18 75.94 M377.17 75.94 L380.50 75.94 M369.96 87.60 L373.29 87.60 M386.49 75.94 L386.49 87.60 M387.04 75.94 L387.04 87.60 M390.37 79.27 L390.37 83.71 M384.82 75.94 L393.70 75.94 L393.70 79.27 L393.15 75.94 M387.04 81.49 L390.37 81.49 M384.82 87.60 L388.71 87.60"/></g>
<g stroke="#0000ff" stroke-width="1.95" fill="none" stroke-linecap="round" stroke-linejoin="round"><path id="t6" transform="translate(-0.35,0)" d="M650.25 26.68 L648.59 33.90 M650.25 26.68 L649.14 33.90 M645.26 27.79 L646.37 26.68 L648.03 26.13 L654.14 26.13 M645.26 27.79 L646.37 27.24 L648.03 26.68 L654.14 26.68"/><path transform="translate(0.35,0)" d="M650.25 26.68 L648.59 33.90 M650.25 26.68 L649.14 33.90 M645.26 27.79 L646.37 26.68 L648.03 26.13 L654.14 26.13 M645.26 27.79 L646.37 27.24 L648.03 26.68 L654.14 26.68"/></g>
<g stroke="#0000ff" stroke-width="1.95" fill="none" stroke-linecap="round" stroke-linejoin="round"><path id="t7" transform="translate(-0.35,0)" d="M658.62 36.10 L658.62 36.44 L658.28 36.44 L658.28 36.10 L658.62 35.77 L659.28 35.44 L660.61 35.44 L661.28 35.77 L661.61 36.10 L661.95 36.77 L661.95 39.10 L662.28 39.77 L662.61 40.10 M661.61 36.10 L661.61 39.10 L661.95 39.77 L662.61 40.10 L662.94 40.10 M661.61 36.77 L661.28 37.10 L659.28 37.44 L658.28 37.77 L657.95 38.44 L657.95 39.10 L658.28 39.77 L659.28 40.10 L660.28 40.10 L660.95 39.77 L661.61 39.10 M659.28 37.44 L658.62 37.77 L658.28 38.44 L658.28 39.10 L658.62 39.77 L659.28 40.10"/><path transform="translate(0.35,0)" d="M658.62 36.10 L658.62 36.44 L658.28 36.44 L658.28 36.10 L658.62 35.77 L659.28 35.44 L660.61 35.44 L661.28 35.77 L661.61 36.10 L661.95 36.77 L661.95 39.10 L662.28 39.77 L662.61 40.10 M661.61 36.10 L661.61 39.10 L661.95 39.77 L662.61 40.10 L662.94 40.10 M661.61 36.77 L661.28 37.10 L659.28 37.44 L658.28 37.77 L657.95 38.44 L657.95 39.10 L658.28 39.77 L659.28 40.10 L660.28 40.10 L660.95 39.77 L661.61 39.10 M659.28 37.44 L658.62 37.77 L658.28 38.44 L658.28 39.10 L658.62 39.77 L659.28 40.10"/></g>
<path d="M667.53 27.94 L677.52 27.94 M667.53 31.47 L677.52 31.47" stroke="#0000ff" stroke-width="1.85" fill="none" stroke-linecap="round" stroke-linejoin="round"/>
<g stroke="#0000ff" stroke-width="1.95" fill="none" stroke-linecap="round" stroke-linejoin="round"><path id="t8" transform="translate(-0.35,0)" d="M687.94 26.68 L686.28 33.90 M687.94 26.68 L686.84 33.90 M682.95 27.79 L684.06 26.68 L685.73 26.13 L691.83 26.13 M682.95 27.79 L684.06 27.24 L685.73 26.68 L691.83 26.68"/><path transform="translate(0.35,0)" d="M687.94 26.68 L686.28 33.90 M687.94 26.68 L686.84 33.90 M682.95 27.79 L684.06 26.68 L685.73 26.13 L691.83 26.13 M682.95 27.79 L684.06 27.24 L685.73 26.68 L691.83 26.68"/></g>
<g stroke="#0000ff" stroke-width="1.95" fill="none" stroke-linecap="round" stroke-linejoin="round"><path id="t9" transform="translate(-0.35,0)" d="M699.64 33.11 L699.64 40.10 M699.97 33.11 L699.97 40.10 M699.64 36.44 L698.97 35.77 L698.30 35.44 L697.64 35.44 L696.64 35.77 L695.97 36.44 L695.64 37.44 L695.64 38.10 L695.97 39.10 L696.64 39.77 L697.64 40.10 L698.30 40.10 L698.97 39.77 L699.64 39.10 M697.64 35.44 L696.97 35.77 L696.31 36.44 L695.97 37.44 L695.97 38.10 L696.31 39.10 L696.97 39.77 L697.64 40.10 M698.64 33.11 L699.97 33.11 M699.64 40.10 L700.97 40.10"/><path transform="translate(0.35,0)" d="M699.64 33.11 L699.64 40.10 M699.97 33.11 L699.97 40.10 M699.64 36.44 L698.97 35.77 L698.30 35.44 L697.64 35.44 L696.64 35.77 L695.97 36.44 L695.64 37.44 L695.64 38.10 L695.97 39.10 L696.64 39.77 L697.64 40.10 L698.30 40.10 L698.97 39.77 L699.64 39.10 M697.64 35.44 L696.97 35.77 L696.31 36.44 L695.97 37.44 L695.97 38.10 L696.31 39.10 L696.97 39.77 L697.64 40.10 M698.64 33.11 L699.97 33.11 M699.64 40.10 L700.97 40.10"/></g>
<path d="M705.55 27.94 L715.54 27.94 M705.55 31.47 L715.54 31.47" stroke="#0000ff" stroke-width="1.85" fill="none" stroke-linecap="round" stroke-linejoin="round"/>
<g stroke="#0000ff" stroke-width="1.95" fill="none" stroke-linecap="round" stroke-linejoin="round"><path id="t10" transform="translate(-0.35,0)" d="M724.86 22.24 L723.19 22.80 L722.08 24.46 L721.53 27.24 L721.53 28.90 L722.08 31.68 L723.19 33.34 L724.86 33.90 L725.97 33.90 L727.63 33.34 L728.74 31.68 L729.30 28.90 L729.30 27.24 L728.74 24.46 L727.63 22.80 L725.97 22.24 L724.86 22.24 M724.86 22.24 L723.75 22.80 L723.19 23.35 L722.64 24.46 L722.08 27.24 L722.08 28.90 L722.64 31.68 L723.19 32.79 L723.75 33.34 L724.86 33.90 M725.97 33.90 L727.08 33.34 L727.63 32.79 L728.19 31.68 L728.74 28.90 L728.74 27.24 L728.19 24.46 L727.63 23.35 L727.08 22.80 L725.97 22.24 M735.84 32.79 L735.28 33.34 L735.84 33.90 L736.39 33.34 L735.84 32.79 M743.49 22.24 L742.38 27.79 M742.38 27.79 L743.49 26.68 L745.15 26.13 L746.82 26.13 L748.48 26.68 L749.59 27.79 L750.15 29.46 L750.15 30.57 L749.59 32.23 L748.48 33.34 L746.82 33.90 L745.15 33.90 L743.49 33.34 L742.93 32.79 L742.38 31.68 L742.38 31.12 L742.93 30.57 L743.49 31.12 L742.93 31.68 M746.82 26.13 L747.93 26.68 L749.04 27.79 L749.59 29.46 L749.59 30.57 L749.04 32.23 L747.93 33.34 L746.82 33.90 M743.49 22.24 L749.04 22.24 M743.49 22.80 L746.26 22.80 L749.04 22.24 M771.00 20.02 L769.89 21.13 L768.78 22.80 L767.67 25.02 L767.11 27.79 L767.11 30.01 L767.67 32.79 L768.78 35.01 L769.89 36.67 L771.00 37.78 M769.89 21.13 L768.78 23.35 L768.22 25.02 L767.67 27.79 L767.67 30.01 L768.22 32.79 L768.78 34.45 L769.89 36.67 M784.20 23.91 L784.75 25.57 L784.75 22.24 L784.20 23.91 L783.09 22.80 L781.42 22.24 L780.31 22.24 L778.65 22.80 L777.54 23.91 L776.98 25.02 L776.43 26.68 L776.43 29.46 L776.98 31.12 L777.54 32.23 L778.65 33.34 L780.31 33.90 L781.42 33.90 L783.09 33.34 L784.20 32.23 M780.31 22.24 L779.20 22.80 L778.09 23.91 L777.54 25.02 L776.98 26.68 L776.98 29.46 L777.54 31.12 L778.09 32.23 L779.20 33.34 L780.31 33.90 M784.20 29.46 L784.20 33.90 M784.75 29.46 L784.75 33.90 M782.53 29.46 L786.42 29.46 M791.85 26.13 L795.18 33.90 M792.40 26.13 L795.18 32.79 M798.51 26.13 L795.18 33.90 L794.07 36.12 L792.96 37.23 L791.85 37.78 L791.29 37.78 L790.74 37.23 L791.29 36.67 L791.85 37.23 M790.74 26.13 L794.07 26.13 M796.29 26.13 L799.62 26.13 M805.05 26.13 L805.05 33.90 M805.60 26.13 L805.60 33.90 M805.60 29.46 L806.16 27.79 L807.27 26.68 L808.38 26.13 L810.04 26.13 L810.60 26.68 L810.60 27.24 L810.04 27.79 L809.49 27.24 L810.04 26.68 M803.38 26.13 L805.60 26.13 M803.38 33.90 L807.27 33.90 M815.47 20.02 L816.58 21.13 L817.69 22.80 L818.80 25.02 L819.36 27.79 L819.36 30.01 L818.80 32.79 L817.69 35.01 L816.58 36.67 L815.47 37.78 M816.58 21.13 L817.69 23.35 L818.25 25.02 L818.80 27.79 L818.80 30.01 L818.25 32.79 L817.69 34.45 L816.58 36.67"/><path transform="translate(0.35,0)" d="M724.86 22.24 L723.19 22.80 L722.08 24.46 L721.53 27.24 L721.53 28.90 L722.08 31.68 L723.19 33.34 L724.86 33.90 L725.97 33.90 L727.63 33.34 L728.74 31.68 L729.30 28.90 L729.30 27.24 L728.74 24.46 L727.63 22.80 L725.97 22.24 L724.86 22.24 M724.86 22.24 L723.75 22.80 L723.19 23.35 L722.64 24.46 L722.08 27.24 L722.08 28.90 L722.64 31.68 L723.19 32.79 L723.75 33.34 L724.86 33.90 M725.97 33.90 L727.08 33.34 L727.63 32.79 L728.19 31.68 L728.74 28.90 L728.74 27.24 L728.19 24.46 L727.63 23.35 L727.08 22.80 L725.97 22.24 M735.84 32.79 L735.28 33.34 L735.84 33.90 L736.39 33.34 L735.84 32.79 M743.49 22.24 L742.38 27.79 M742.38 27.79 L743.49 26.68 L745.15 26.13 L746.82 26.13 L748.48 26.68 L749.59 27.79 L750.15 29.46 L750.15 30.57 L749.59 32.23 L748.48 33.34 L746.82 33.90 L745.15 33.90 L743.49 33.34 L742.93 32.79 L742.38 31.68 L742.38 31.12 L742.93 30.57 L743.49 31.12 L742.93 31.68 M746.82 26.13 L747.93 26.68 L749.04 27.79 L749.59 29.46 L749.59 30.57 L749.04 32.23 L747.93 33.34 L746.82 33.90 M743.49 22.24 L749.04 22.24 M743.49 22.80 L746.26 22.80 L749.04 22.24 M771.00 20.02 L769.89 21.13 L768.78 22.80 L767.67 25.02 L767.11 27.79 L767.11 30.01 L767.67 32.79 L768.78 35.01 L769.89 36.67 L771.00 37.78 M769.89 21.13 L768.78 23.35 L768.22 25.02 L767.67 27.79 L767.67 30.01 L768.22 32.79 L768.78 34.45 L769.89 36.67 M784.20 23.91 L784.75 25.57 L784.75 22.24 L784.20 23.91 L783.09 22.80 L781.42 22.24 L780.31 22.24 L778.65 22.80 L777.54 23.91 L776.98 25.02 L776.43 26.68 L776.43 29.46 L776.98 31.12 L777.54 32.23 L778.65 33.34 L780.31 33.90 L781.42 33.90 L783.09 33.34 L784.20 32.23 M780.31 22.24 L779.20 22.80 L778.09 23.91 L777.54 25.02 L776.98 26.68 L776.98 29.46 L777.54 31.12 L778.09 32.23 L779.20 33.34 L780.31 33.90 M784.20 29.46 L784.20 33.90 M784.75 29.46 L784.75 33.90 M782.53 29.46 L786.42 29.46 M791.85 26.13 L795.18 33.90 M792.40 26.13 L795.18 32.79 M798.51 26.13 L795.18 33.90 L794.07 36.12 L792.96 37.23 L791.85 37.78 L791.29 37.78 L790.74 37.23 L791.29 36.67 L791.85 37.23 M790.74 26.13 L794.07 26.13 M796.29 26.13 L799.62 26.13 M805.05 26.13 L805.05 33.90 M805.60 26.13 L805.60 33.90 M805.60 29.46 L806.16 27.79 L807.27 26.68 L808.38 26.13 L810.04 26.13 L810.60 26.68 L810.60 27.24 L810.04 27.79 L809.49 27.24 L810.04 26.68 M803.38 26.13 L805.60 26.13 M803.38 33.90 L807.27 33.90 M815.47 20.02 L816.58 21.13 L817.69 22.80 L818.80 25.02 L819.36 27.79 L819.36 30.01 L818.80 32.79 L817.69 35.01 L816.58 36.67 L815.47 37.78 M816.58 21.13 L817.69 23.35 L818.25 25.02 L818.80 27.79 L818.80 30.01 L818.25 32.79 L817.69 34.45 L816.58 36.67"/></g>
<g stroke="#ff0000" stroke-width="1.95" fill="none" stroke-linecap="round" stroke-linejoin="round"><path id="t11" transform="translate(-0.35,0)" d="M650.25 53.58 L648.59 60.80 M650.25 53.58 L649.14 60.80 M645.26 54.69 L646.37 53.58 L648.03 53.03 L654.14 53.03 M645.26 54.69 L646.37 54.14 L648.03 53.58 L654.14 53.58"/><path transform="translate(0.35,0)" d="M650.25 53.58 L648.59 60.80 M650.25 53.58 L649.14 60.80 M645.26 54.69 L646.37 53.58 L648.03 53.03 L654.14 53.03 M645.26 54.69 L646.37 54.14 L648.03 53.58 L654.14 53.58"/></g>
<g stroke="#ff0000" stroke-width="1.95" fill="none" stroke-linecap="round" stroke-linejoin="round"><path id="t12" transform="translate(-0.35,0)" d="M658.62 63.00 L658.62 63.34 L658.28 63.34 L658.28 63.00 L658.62 62.67 L659.28 62.34 L660.61 62.34 L661.28 62.67 L661.61 63.00 L661.95 63.67 L661.95 66.00 L662.28 66.67 L662.61 67.00 M661.61 63.00 L661.61 66.00 L661.95 66.67 L662.61 67.00 L662.94 67.00 M661.61 63.67 L661.28 64.00 L659.28 64.34 L658.28 64.67 L657.95 65.33 L657.95 66.00 L658.28 66.67 L659.28 67.00 L660.28 67.00 L660.95 66.67 L661.61 66.00 M659.28 64.34 L658.62 64.67 L658.28 65.33 L658.28 66.00 L658.62 66.67 L659.28 67.00"/><path transform="translate(0.35,0)" d="M658.62 63.00 L658.62 63.34 L658.28 63.34 L658.28 63.00 L658.62 62.67 L659.28 62.34 L660.61 62.34 L661.28 62.67 L661.61 63.00 L661.95 63.67 L661.95 66.00 L662.28 66.67 L662.61 67.00 M661.61 63.00 L661.61 66.00 L661.95 66.67 L662.61 67.00 L662.94 67.00 M661.61 63.67 L661.28 64.00 L659.28 64.34 L658.28 64.67 L657.95 65.33 L657.95 66.00 L658.28 66.67 L659.28 67.00 L660.28 67.00 L660.95 66.67 L661.61 66.00 M659.28 64.34 L658.62 64.67 L658.28 65.33 L658.28 66.00 L658.62 66.67 L659.28 67.00"/></g>
<path d="M667.53 54.84 L677.52 54.84 M667.53 58.37 L677.52 58.37" stroke="#ff0000" stroke-width="1.85" fill="none" stroke-linecap="round" stroke-linejoin="round"/>
<g stroke="#ff0000" stroke-width="1.95" fill="none" stroke-linecap="round" stroke-linejoin="round"><path id="t13" transform="translate(-0.35,0)" d="M687.94 53.58 L686.28 60.80 M687.94 53.58 L686.84 60.80 M682.95 54.69 L684.06 53.58 L685.73 53.03 L691.83 53.03 M682.95 54.69 L684.06 54.14 L685.73 53.58 L691.83 53.58"/><path transform="translate(0.35,0)" d="M687.94 53.58 L686.28 60.80 M687.94 53.58 L686.84 60.80 M682.95 54.69 L684.06 53.58 L685.73 53.03 L691.83 53.03 M682.95 54.69 L684.06 54.14 L685.73 53.58 L691.83 53.58"/></g>
<g stroke="#ff0000" stroke-width="1.95" fill="none" stroke-linecap="round" stroke-linejoin="round"><path id="t14" transform="translate(-0.35,0)" d="M699.64 60.01 L699.64 67.00 M699.97 60.01 L699.97 67.00 M699.64 63.34 L698.97 62.67 L698.30 62.34 L697.64 62.34 L696.64 62.67 L695.97 63.34 L695.64 64.34 L695.64 65.00 L695.97 66.00 L696.64 66.67 L697.64 67.00 L698.30 67.00 L698.97 66.67 L699.64 66.00 M697.64 62.34 L696.97 62.67 L696.31 63.34 L695.97 64.34 L695.97 65.00 L696.31 66.00 L696.97 66.67 L697.64 67.00 M698.64 60.01 L699.97 60.01 M699.64 67.00 L700.97 67.00"/><path transform="translate(0.35,0)" d="M699.64 60.01 L699.64 67.00 M699.97 60.01 L699.97 67.00 M699.64 63.34 L698.97 62.67 L698.30 62.34 L697.64 62.34 L696.64 62.67 L695.97 63.34 L695.64 64.34 L695.64 65.00 L695.97 66.00 L696.64 66.67 L697.64 67.00 L698.30 67.00 L698.97 66.67 L699.64 66.00 M697.64 62.34 L696.97 62.67 L696.31 63.34 L695.97 64.34 L695.97 65.00 L696.31 66.00 L696.97 66.67 L697.64 67.00 M698.64 60.01 L699.97 60.01 M699.64 67.00 L700.97 67.00"/></g>
<path d="M705.55 54.84 L715.54 54.84 M705.55 58.37 L715.54 58.37" stroke="#ff0000" stroke-width="1.85" fill="none" stroke-linecap="round" stroke-linejoin="round"/>
<g stroke="#ff0000" stroke-width="1.95" fill="none" stroke-linecap="round" stroke-linejoin="round"><path id="t15" transform="translate(-0.35,0)" d="M724.86 49.14 L723.19 49.70 L722.08 51.36 L721.53 54.14 L721.53 55.80 L722.08 58.58 L723.19 60.24 L724.86 60.80 L725.97 60.80 L727.63 60.24 L728.74 58.58 L729.30 55.80 L729.30 54.14 L728.74 51.36 L727.63 49.70 L725.97 49.14 L724.86 49.14 M724.86 49.14 L723.75 49.70 L723.19 50.25 L722.64 51.36 L722.08 54.14 L722.08 55.80 L722.64 58.58 L723.19 59.69 L723.75 60.24 L724.86 60.80 M725.97 60.80 L727.08 60.24 L727.63 59.69 L728.19 58.58 L728.74 55.80 L728.74 54.14 L728.19 51.36 L727.63 50.25 L727.08 49.70 L725.97 49.14 M735.84 59.69 L735.28 60.24 L735.84 60.80 L736.39 60.24 L735.84 59.69 M742.93 51.36 L743.49 51.92 L742.93 52.47 L742.38 51.92 L742.38 51.36 L742.93 50.25 L743.49 49.70 L745.15 49.14 L747.37 49.14 L749.04 49.70 L749.59 50.25 L750.15 51.36 L750.15 52.47 L749.59 53.58 L747.93 54.69 L745.15 55.80 L744.04 56.36 L742.93 57.47 L742.38 59.13 L742.38 60.80 M747.37 49.14 L748.48 49.70 L749.04 50.25 L749.59 51.36 L749.59 52.47 L749.04 53.58 L747.37 54.69 L745.15 55.80 M742.38 59.69 L742.93 59.13 L744.04 59.13 L746.82 60.24 L748.48 60.24 L749.59 59.69 L750.15 59.13 M744.04 59.13 L746.82 60.80 L749.04 60.80 L749.59 60.24 L750.15 59.13 L750.15 58.02 M756.69 49.14 L755.58 54.69 M755.58 54.69 L756.69 53.58 L758.35 53.03 L760.02 53.03 L761.68 53.58 L762.79 54.69 L763.35 56.36 L763.35 57.47 L762.79 59.13 L761.68 60.24 L760.02 60.80 L758.35 60.80 L756.69 60.24 L756.13 59.69 L755.58 58.58 L755.58 58.02 L756.13 57.47 L756.69 58.02 L756.13 58.58 M760.02 53.03 L761.13 53.58 L762.24 54.69 L762.79 56.36 L762.79 57.47 L762.24 59.13 L761.13 60.24 L760.02 60.80 M756.69 49.14 L762.24 49.14 M756.69 49.70 L759.46 49.70 L762.24 49.14"/><path transform="translate(0.35,0)" d="M724.86 49.14 L723.19 49.70 L722.08 51.36 L721.53 54.14 L721.53 55.80 L722.08 58.58 L723.19 60.24 L724.86 60.80 L725.97 60.80 L727.63 60.24 L728.74 58.58 L729.30 55.80 L729.30 54.14 L728.74 51.36 L727.63 49.70 L725.97 49.14 L724.86 49.14 M724.86 49.14 L723.75 49.70 L723.19 50.25 L722.64 51.36 L722.08 54.14 L722.08 55.80 L722.64 58.58 L723.19 59.69 L723.75 60.24 L724.86 60.80 M725.97 60.80 L727.08 60.24 L727.63 59.69 L728.19 58.58 L728.74 55.80 L728.74 54.14 L728.19 51.36 L727.63 50.25 L727.08 49.70 L725.97 49.14 M735.84 59.69 L735.28 60.24 L735.84 60.80 L736.39 60.24 L735.84 59.69 M742.93 51.36 L743.49 51.92 L742.93 52.47 L742.38 51.92 L742.38 51.36 L742.93 50.25 L743.49 49.70 L745.15 49.14 L747.37 49.14 L749.04 49.70 L749.59 50.25 L750.15 51.36 L750.15 52.47 L749.59 53.58 L747.93 54.69 L745.15 55.80 L744.04 56.36 L742.93 57.47 L742.38 59.13 L742.38 60.80 M747.37 49.14 L748.48 49.70 L749.04 50.25 L749.59 51.36 L749.59 52.47 L749.04 53.58 L747.37 54.69 L745.15 55.80 M742.38 59.69 L742.93 59.13 L744.04 59.13 L746.82 60.24 L748.48 60.24 L749.59 59.69 L750.15 59.13 M744.04 59.13 L746.82 60.80 L749.04 60.80 L749.59 60.24 L750.15 59.13 L750.15 58.02 M756.69 49.14 L755.58 54.69 M755.58 54.69 L756.69 53.58 L758.35 53.03 L760.02 53.03 L761.68 53.58 L762.79 54.69 L763.35 56.36 L763.35 57.47 L762.79 59.13 L761.68 60.24 L760.02 60.80 L758.35 60.80 L756.69 60.24 L756.13 59.69 L755.58 58.58 L755.58 58.02 L756.13 57.47 L756.69 58.02 L756.13 58.58 M760.02 53.03 L761.13 53.58 L762.24 54.69 L762.79 56.36 L762.79 57.47 L762.24 59.13 L761.13 60.24 L760.02 60.80 M756.69 49.14 L762.24 49.14 M756.69 49.70 L759.46 49.70 L762.24 49.14"/></g>
<g stroke="#00ff00" stroke-width="1.95" fill="none" stroke-linecap="round" stroke-linejoin="round"><path id="t16" transform="translate(-0.35,0)" d="M650.25 80.48 L648.59 87.70 M650.25 80.48 L649.14 87.70 M645.26 81.59 L646.37 80.48 L648.03 79.93 L654.14 79.93 M645.26 81.59 L646.37 81.04 L648.03 80.48 L654.14 80.48"/><path transform="translate(0.35,0)" d="M650.25 80.48 L648.59 87.70 M650.25 80.48 L649.14 87.70 M645.26 81.59 L646.37 80.48 L648.03 79.93 L654.14 79.93 M645.26 81.59 L646.37 81.04 L648.03 80.48 L654.14 80.48"/></g>
<g stroke="#00ff00" stroke-width="1.95" fill="none" stroke-linecap="round" stroke-linejoin="round"><path id="t17" transform="translate(-0.35,0)" d="M658.62 89.90 L658.62 90.24 L658.28 90.24 L658.28 89.90 L658.62 89.57 L659.28 89.24 L660.61 89.24 L661.28 89.57 L661.61 89.90 L661.95 90.57 L661.95 92.90 L662.28 93.57 L662.61 93.90 M661.61 89.90 L661.61 92.90 L661.95 93.57 L662.61 93.90 L662.94 93.90 M661.61 90.57 L661.28 90.90 L659.28 91.24 L658.28 91.57 L657.95 92.23 L657.95 92.90 L658.28 93.57 L659.28 93.90 L660.28 93.90 L660.95 93.57 L661.61 92.90 M659.28 91.24 L658.62 91.57 L658.28 92.23 L658.28 92.90 L658.62 93.57 L659.28 93.90"/><path transform="translate(0.35,0)" d="M658.62 89.90 L658.62 90.24 L658.28 90.24 L658.28 89.90 L658.62 89.57 L659.28 89.24 L660.61 89.24 L661.28 89.57 L661.61 89.90 L661.95 90.57 L661.95 92.90 L662.28 93.57 L662.61 93.90 M661.61 89.90 L661.61 92.90 L661.95 93.57 L662.61 93.90 L662.94 93.90 M661.61 90.57 L661.28 90.90 L659.28 91.24 L658.28 91.57 L657.95 92.23 L657.95 92.90 L658.28 93.57 L659.28 93.90 L660.28 93.90 L660.95 93.57 L661.61 92.90 M659.28 91.24 L658.62 91.57 L658.28 92.23 L658.28 92.90 L658.62 93.57 L659.28 93.90"/></g>
<path d="M667.53 81.74 L677.52 81.74 M667.53 85.27 L677.52 85.27" stroke="#00ff00" stroke-width="1.85" fill="none" stroke-linecap="round" stroke-linejoin="round"/>
<g stroke="#00ff00" stroke-width="1.95" fill="none" stroke-linecap="round" stroke-linejoin="round"><path id="t18" transform="translate(-0.35,0)" d="M686.84 76.05 L685.17 76.60 L684.06 78.27 L683.50 81.04 L683.50 82.70 L684.06 85.48 L685.17 87.14 L686.84 87.70 L687.94 87.70 L689.61 87.14 L690.72 85.48 L691.27 82.70 L691.27 81.04 L690.72 78.27 L689.61 76.60 L687.94 76.05 L686.84 76.05 M686.84 76.05 L685.73 76.60 L685.17 77.16 L684.62 78.27 L684.06 81.04 L684.06 82.70 L684.62 85.48 L685.17 86.59 L685.73 87.14 L686.84 87.70 M687.94 87.70 L689.05 87.14 L689.61 86.59 L690.16 85.48 L690.72 82.70 L690.72 81.04 L690.16 78.27 L689.61 77.16 L689.05 76.60 L687.94 76.05 M697.82 86.59 L697.26 87.14 L697.82 87.70 L698.37 87.14 L697.82 86.59 M704.91 78.27 L705.47 78.82 L704.91 79.38 L704.36 78.82 L704.36 78.27 L704.91 77.16 L705.47 76.60 L707.13 76.05 L709.35 76.05 L711.01 76.60 L711.57 77.16 L712.12 78.27 L712.12 79.38 L711.57 80.48 L709.90 81.59 L707.13 82.70 L706.02 83.26 L704.91 84.37 L704.36 86.03 L704.36 87.70 M709.35 76.05 L710.46 76.60 L711.01 77.16 L711.57 78.27 L711.57 79.38 L711.01 80.48 L709.35 81.59 L707.13 82.70 M704.36 86.59 L704.91 86.03 L706.02 86.03 L708.79 87.14 L710.46 87.14 L711.57 86.59 L712.12 86.03 M706.02 86.03 L708.79 87.70 L711.01 87.70 L711.57 87.14 L712.12 86.03 L712.12 84.92 M718.66 76.05 L717.55 81.59 M717.55 81.59 L718.66 80.48 L720.33 79.93 L721.99 79.93 L723.66 80.48 L724.77 81.59 L725.32 83.26 L725.32 84.37 L724.77 86.03 L723.66 87.14 L721.99 87.70 L720.33 87.70 L718.66 87.14 L718.11 86.59 L717.55 85.48 L717.55 84.92 L718.11 84.37 L718.66 84.92 L718.11 85.48 M721.99 79.93 L723.10 80.48 L724.21 81.59 L724.77 83.26 L724.77 84.37 L724.21 86.03 L723.10 87.14 L721.99 87.70 M718.66 76.05 L724.21 76.05 M718.66 76.60 L721.44 76.60 L724.21 76.05 M731.87 87.70 L731.31 87.14 L731.87 86.59 L732.42 87.14 L732.42 88.26 L731.87 89.37 L731.31 89.92 M742.84 80.48 L741.18 87.70 M742.84 80.48 L741.74 87.70 M737.85 81.59 L738.96 80.48 L740.62 79.93 L746.73 79.93 M737.85 81.59 L738.96 81.04 L740.62 80.48 L746.73 80.48"/><path transform="translate(0.35,0)" d="M686.84 76.05 L685.17 76.60 L684.06 78.27 L683.50 81.04 L683.50 82.70 L684.06 85.48 L685.17 87.14 L686.84 87.70 L687.94 87.70 L689.61 87.14 L690.72 85.48 L691.27 82.70 L691.27 81.04 L690.72 78.27 L689.61 76.60 L687.94 76.05 L686.84 76.05 M686.84 76.05 L685.73 76.60 L685.17 77.16 L684.62 78.27 L684.06 81.04 L684.06 82.70 L684.62 85.48 L685.17 86.59 L685.73 87.14 L686.84 87.70 M687.94 87.70 L689.05 87.14 L689.61 86.59 L690.16 85.48 L690.72 82.70 L690.72 81.04 L690.16 78.27 L689.61 77.16 L689.05 76.60 L687.94 76.05 M697.82 86.59 L697.26 87.14 L697.82 87.70 L698.37 87.14 L697.82 86.59 M704.91 78.27 L705.47 78.82 L704.91 79.38 L704.36 78.82 L704.36 78.27 L704.91 77.16 L705.47 76.60 L707.13 76.05 L709.35 76.05 L711.01 76.60 L711.57 77.16 L712.12 78.27 L712.12 79.38 L711.57 80.48 L709.90 81.59 L707.13 82.70 L706.02 83.26 L704.91 84.37 L704.36 86.03 L704.36 87.70 M709.35 76.05 L710.46 76.60 L711.01 77.16 L711.57 78.27 L711.57 79.38 L711.01 80.48 L709.35 81.59 L707.13 82.70 M704.36 86.59 L704.91 86.03 L706.02 86.03 L708.79 87.14 L710.46 87.14 L711.57 86.59 L712.12 86.03 M706.02 86.03 L708.79 87.70 L711.01 87.70 L711.57 87.14 L712.12 86.03 L712.12 84.92 M718.66 76.05 L717.55 81.59 M717.55 81.59 L718.66 80.48 L720.33 79.93 L721.99 79.93 L723.66 80.48 L724.77 81.59 L725.32 83.26 L725.32 84.37 L724.77 86.03 L723.66 87.14 L721.99 87.70 L720.33 87.70 L718.66 87.14 L718.11 86.59 L717.55 85.48 L717.55 84.92 L718.11 84.37 L718.66 84.92 L718.11 85.48 M721.99 79.93 L723.10 80.48 L724.21 81.59 L724.77 83.26 L724.77 84.37 L724.21 86.03 L723.10 87.14 L721.99 87.70 M718.66 76.05 L724.21 76.05 M718.66 76.60 L721.44 76.60 L724.21 76.05 M731.87 87.70 L731.31 87.14 L731.87 86.59 L732.42 87.14 L732.42 88.26 L731.87 89.37 L731.31 89.92 M742.84 80.48 L741.18 87.70 M742.84 80.48 L741.74 87.70 M737.85 81.59 L738.96 80.48 L740.62 79.93 L746.73 79.93 M737.85 81.59 L738.96 81.04 L740.62 80.48 L746.73 80.48"/></g>
<g stroke="#00ff00" stroke-width="1.95" fill="none" stroke-linecap="round" stroke-linejoin="round"><path id="t19" transform="translate(-0.35,0)" d="M754.54 86.91 L754.54 93.90 M754.87 86.91 L754.87 93.90 M754.54 90.24 L753.87 89.57 L753.20 89.24 L752.54 89.24 L751.54 89.57 L750.87 90.24 L750.54 91.24 L750.54 91.90 L750.87 92.90 L751.54 93.57 L752.54 93.90 L753.20 93.90 L753.87 93.57 L754.54 92.90 M752.54 89.24 L751.87 89.57 L751.21 90.24 L750.87 91.24 L750.87 91.90 L751.21 92.90 L751.87 93.57 L752.54 93.90 M753.54 86.91 L754.87 86.91 M754.54 93.90 L755.87 93.90"/><path transform="translate(0.35,0)" d="M754.54 86.91 L754.54 93.90 M754.87 86.91 L754.87 93.90 M754.54 90.24 L753.87 89.57 L753.20 89.24 L752.54 89.24 L751.54 89.57 L750.87 90.24 L750.54 91.24 L750.54 91.90 L750.87 92.90 L751.54 93.57 L752.54 93.90 L753.20 93.90 L753.87 93.57 L754.54 92.90 M752.54 89.24 L751.87 89.57 L751.21 90.24 L750.87 91.24 L750.87 91.90 L751.21 92.90 L751.87 93.57 L752.54 93.90 M753.54 86.91 L754.87 86.91 M754.54 93.90 L755.87 93.90"/></g>
<path d="M760.45 81.74 L770.44 81.74 M760.45 85.27 L770.44 85.27" stroke="#00ff00" stroke-width="1.85" fill="none" stroke-linecap="round" stroke-linejoin="round"/>
<g stroke="#00ff00" stroke-width="1.95" fill="none" stroke-linecap="round" stroke-linejoin="round"><path id="t20" transform="translate(-0.35,0)" d="M781.42 77.16 L781.42 87.70 M781.98 76.05 L781.98 87.70 M781.98 76.05 L775.87 84.37 L784.75 84.37 M779.76 87.70 L783.64 87.70 M794.07 80.48 L792.40 87.70 M794.07 80.48 L792.96 87.70 M789.07 81.59 L790.18 80.48 L791.85 79.93 L797.95 79.93 M789.07 81.59 L790.18 81.04 L791.85 80.48 L797.95 80.48"/><path transform="translate(0.35,0)" d="M781.42 77.16 L781.42 87.70 M781.98 76.05 L781.98 87.70 M781.98 76.05 L775.87 84.37 L784.75 84.37 M779.76 87.70 L783.64 87.70 M794.07 80.48 L792.40 87.70 M794.07 80.48 L792.96 87.70 M789.07 81.59 L790.18 80.48 L791.85 79.93 L797.95 79.93 M789.07 81.59 L790.18 81.04 L791.85 80.48 L797.95 80.48"/></g>
<g stroke="#00ff00" stroke-width="1.95" fill="none" stroke-linecap="round" stroke-linejoin="round"><path id="t21" transform="translate(-0.35,0)" d="M802.43 89.90 L802.43 90.24 L802.10 90.24 L802.10 89.90 L802.43 89.57 L803.09 89.24 L804.43 89.24 L805.09 89.57 L805.42 89.90 L805.76 90.57 L805.76 92.90 L806.09 93.57 L806.42 93.90 M805.42 89.90 L805.42 92.90 L805.76 93.57 L806.42 93.90 L806.76 93.90 M805.42 90.57 L805.09 90.90 L803.09 91.24 L802.10 91.57 L801.76 92.23 L801.76 92.90 L802.10 93.57 L803.09 93.90 L804.09 93.90 L804.76 93.57 L805.42 92.90 M803.09 91.24 L802.43 91.57 L802.10 92.23 L802.10 92.90 L802.43 93.57 L803.09 93.90"/><path transform="translate(0.35,0)" d="M802.43 89.90 L802.43 90.24 L802.10 90.24 L802.10 89.90 L802.43 89.57 L803.09 89.24 L804.43 89.24 L805.09 89.57 L805.42 89.90 L805.76 90.57 L805.76 92.90 L806.09 93.57 L806.42 93.90 M805.42 89.90 L805.42 92.90 L805.76 93.57 L806.42 93.90 L806.76 93.90 M805.42 90.57 L805.09 90.90 L803.09 91.24 L802.10 91.57 L801.76 92.23 L801.76 92.90 L802.10 93.57 L803.09 93.90 L804.09 93.90 L804.76 93.57 L805.42 92.90 M803.09 91.24 L802.43 91.57 L802.10 92.23 L802.10 92.90 L802.43 93.57 L803.09 93.90"/></g>
<g stroke="#00ffff" stroke-width="1.95" fill="none" stroke-linecap="round" stroke-linejoin="round"><path id="t22" transform="translate(-0.35,0)" d="M650.25 107.38 L648.59 114.60 M650.25 107.38 L649.14 114.60 M645.26 108.49 L646.37 107.38 L648.03 106.83 L654.14 106.83 M645.26 108.49 L646.37 107.94 L648.03 107.38 L654.14 107.38"/><path transform="translate(0.35,0)" d="M650.25 107.38 L648.59 114.60 M650.25 107.38 L649.14 114.60 M645.26 108.49 L646.37 107.38 L648.03 106.83 L654.14 106.83 M645.26 108.49 L646.37 107.94 L648.03 107.38 L654.14 107.38"/></g>
<g stroke="#00ffff" stroke-width="1.95" fill="none" stroke-linecap="round" stroke-linejoin="round"><path id="t23" transform="translate(-0.35,0)" d="M658.62 116.80 L658.62 117.14 L658.28 117.14 L658.28 116.80 L658.62 116.47 L659.28 116.14 L660.61 116.14 L661.28 116.47 L661.61 116.80 L661.95 117.47 L661.95 119.80 L662.28 120.47 L662.61 120.80 M661.61 116.80 L661.61 119.80 L661.95 120.47 L662.61 120.80 L662.94 120.80 M661.61 117.47 L661.28 117.80 L659.28 118.14 L658.28 118.47 L657.95 119.13 L657.95 119.80 L658.28 120.47 L659.28 120.80 L660.28 120.80 L660.95 120.47 L661.61 119.80 M659.28 118.14 L658.62 118.47 L658.28 119.13 L658.28 119.80 L658.62 120.47 L659.28 120.80"/><path transform="translate(0.35,0)" d="M658.62 116.80 L658.62 117.14 L658.28 117.14 L658.28 116.80 L658.62 116.47 L659.28 116.14 L660.61 116.14 L661.28 116.47 L661.61 116.80 L661.95 117.47 L661.95 119.80 L662.28 120.47 L662.61 120.80 M661.61 116.80 L661.61 119.80 L661.95 120.47 L662.61 120.80 L662.94 120.80 M661.61 117.47 L661.28 117.80 L659.28 118.14 L658.28 118.47 L657.95 119.13 L657.95 119.80 L658.28 120.47 L659.28 120.80 L660.28 120.80 L660.95 120.47 L661.61 119.80 M659.28 118.14 L658.62 118.47 L658.28 119.13 L658.28 119.80 L658.62 120.47 L659.28 120.80"/></g>
<path d="M667.53 108.64 L677.52 108.64 M667.53 112.17 L677.52 112.17" stroke="#00ffff" stroke-width="1.85" fill="none" stroke-linecap="round" stroke-linejoin="round"/>
<g stroke="#00ffff" stroke-width="1.95" fill="none" stroke-linecap="round" stroke-linejoin="round"><path id="t24" transform="translate(-0.35,0)" d="M686.84 102.94 L685.17 103.50 L684.06 105.16 L683.50 107.94 L683.50 109.60 L684.06 112.38 L685.17 114.04 L686.84 114.60 L687.94 114.60 L689.61 114.04 L690.72 112.38 L691.27 109.60 L691.27 107.94 L690.72 105.16 L689.61 103.50 L687.94 102.94 L686.84 102.94 M686.84 102.94 L685.73 103.50 L685.17 104.05 L684.62 105.16 L684.06 107.94 L684.06 109.60 L684.62 112.38 L685.17 113.49 L685.73 114.04 L686.84 114.60 M687.94 114.60 L689.05 114.04 L689.61 113.49 L690.16 112.38 L690.72 109.60 L690.72 107.94 L690.16 105.16 L689.61 104.05 L689.05 103.50 L687.94 102.94 M697.82 113.49 L697.26 114.04 L697.82 114.60 L698.37 114.04 L697.82 113.49 M706.02 105.16 L707.13 104.61 L708.79 102.94 L708.79 114.60 M708.24 103.50 L708.24 114.60 M706.02 114.60 L711.01 114.60 M718.11 105.16 L718.66 105.72 L718.11 106.27 L717.55 105.72 L717.55 105.16 L718.11 104.05 L718.66 103.50 L720.33 102.94 L722.55 102.94 L724.21 103.50 L724.77 104.05 L725.32 105.16 L725.32 106.27 L724.77 107.38 L723.10 108.49 L720.33 109.60 L719.22 110.16 L718.11 111.27 L717.55 112.93 L717.55 114.60 M722.55 102.94 L723.66 103.50 L724.21 104.05 L724.77 105.16 L724.77 106.27 L724.21 107.38 L722.55 108.49 L720.33 109.60 M717.55 113.49 L718.11 112.93 L719.22 112.93 L721.99 114.04 L723.66 114.04 L724.77 113.49 L725.32 112.93 M719.22 112.93 L721.99 114.60 L724.21 114.60 L724.77 114.04 L725.32 112.93 L725.32 111.82 M731.87 102.94 L730.75 108.49 M730.75 108.49 L731.87 107.38 L733.53 106.83 L735.19 106.83 L736.86 107.38 L737.97 108.49 L738.52 110.16 L738.52 111.27 L737.97 112.93 L736.86 114.04 L735.19 114.60 L733.53 114.60 L731.87 114.04 L731.31 113.49 L730.75 112.38 L730.75 111.82 L731.31 111.27 L731.87 111.82 L731.31 112.38 M735.19 106.83 L736.30 107.38 L737.41 108.49 L737.97 110.16 L737.97 111.27 L737.41 112.93 L736.30 114.04 L735.19 114.60 M731.87 102.94 L737.41 102.94 M731.87 103.50 L734.64 103.50 L737.41 102.94 M745.07 114.60 L744.51 114.04 L745.07 113.49 L745.62 114.04 L745.62 115.16 L745.07 116.27 L744.51 116.82 M756.04 107.38 L754.38 114.60 M756.04 107.38 L754.94 114.60 M751.05 108.49 L752.16 107.38 L753.83 106.83 L759.93 106.83 M751.05 108.49 L752.16 107.94 L753.83 107.38 L759.93 107.38"/><path transform="translate(0.35,0)" d="M686.84 102.94 L685.17 103.50 L684.06 105.16 L683.50 107.94 L683.50 109.60 L684.06 112.38 L685.17 114.04 L686.84 114.60 L687.94 114.60 L689.61 114.04 L690.72 112.38 L691.27 109.60 L691.27 107.94 L690.72 105.16 L689.61 103.50 L687.94 102.94 L686.84 102.94 M686.84 102.94 L685.73 103.50 L685.17 104.05 L684.62 105.16 L684.06 107.94 L684.06 109.60 L684.62 112.38 L685.17 113.49 L685.73 114.04 L686.84 114.60 M687.94 114.60 L689.05 114.04 L689.61 113.49 L690.16 112.38 L690.72 109.60 L690.72 107.94 L690.16 105.16 L689.61 104.05 L689.05 103.50 L687.94 102.94 M697.82 113.49 L697.26 114.04 L697.82 114.60 L698.37 114.04 L697.82 113.49 M706.02 105.16 L707.13 104.61 L708.79 102.94 L708.79 114.60 M708.24 103.50 L708.24 114.60 M706.02 114.60 L711.01 114.60 M718.11 105.16 L718.66 105.72 L718.11 106.27 L717.55 105.72 L717.55 105.16 L718.11 104.05 L718.66 103.50 L720.33 102.94 L722.55 102.94 L724.21 103.50 L724.77 104.05 L725.32 105.16 L725.32 106.27 L724.77 107.38 L723.10 108.49 L720.33 109.60 L719.22 110.16 L718.11 111.27 L717.55 112.93 L717.55 114.60 M722.55 102.94 L723.66 103.50 L724.21 104.05 L724.77 105.16 L724.77 106.27 L724.21 107.38 L722.55 108.49 L720.33 109.60 M717.55 113.49 L718.11 112.93 L719.22 112.93 L721.99 114.04 L723.66 114.04 L724.77 113.49 L725.32 112.93 M719.22 112.93 L721.99 114.60 L724.21 114.60 L724.77 114.04 L725.32 112.93 L725.32 111.82 M731.87 102.94 L730.75 108.49 M730.75 108.49 L731.87 107.38 L733.53 106.83 L735.19 106.83 L736.86 107.38 L737.97 108.49 L738.52 110.16 L738.52 111.27 L737.97 112.93 L736.86 114.04 L735.19 114.60 L733.53 114.60 L731.87 114.04 L731.31 113.49 L730.75 112.38 L730.75 111.82 L731.31 111.27 L731.87 111.82 L731.31 112.38 M735.19 106.83 L736.30 107.38 L737.41 108.49 L737.97 110.16 L737.97 111.27 L737.41 112.93 L736.30 114.04 L735.19 114.60 M731.87 102.94 L737.41 102.94 M731.87 103.50 L734.64 103.50 L737.41 102.94 M745.07 114.60 L744.51 114.04 L745.07 113.49 L745.62 114.04 L745.62 115.16 L745.07 116.27 L744.51 116.82 M756.04 107.38 L754.38 114.60 M756.04 107.38 L754.94 114.60 M751.05 108.49 L752.16 107.38 L753.83 106.83 L759.93 106.83 M751.05 108.49 L752.16 107.94 L753.83 107.38 L759.93 107.38"/></g>
<g stroke="#00ffff" stroke-width="1.95" fill="none" stroke-linecap="round" stroke-linejoin="round"><path id="t25" transform="translate(-0.35,0)" d="M767.74 113.81 L767.74 120.80 M768.07 113.81 L768.07 120.80 M767.74 117.14 L767.07 116.47 L766.40 116.14 L765.74 116.14 L764.74 116.47 L764.07 117.14 L763.74 118.14 L763.74 118.80 L764.07 119.80 L764.74 120.47 L765.74 120.80 L766.40 120.80 L767.07 120.47 L767.74 119.80 M765.74 116.14 L765.07 116.47 L764.41 117.14 L764.07 118.14 L764.07 118.80 L764.41 119.80 L765.07 120.47 L765.74 120.80 M766.74 113.81 L768.07 113.81 M767.74 120.80 L769.07 120.80"/><path transform="translate(0.35,0)" d="M767.74 113.81 L767.74 120.80 M768.07 113.81 L768.07 120.80 M767.74 117.14 L767.07 116.47 L766.40 116.14 L765.74 116.14 L764.74 116.47 L764.07 117.14 L763.74 118.14 L763.74 118.80 L764.07 119.80 L764.74 120.47 L765.74 120.80 L766.40 120.80 L767.07 120.47 L767.74 119.80 M765.74 116.14 L765.07 116.47 L764.41 117.14 L764.07 118.14 L764.07 118.80 L764.41 119.80 L765.07 120.47 L765.74 120.80 M766.74 113.81 L768.07 113.81 M767.74 120.80 L769.07 120.80"/></g>
<path d="M773.65 108.64 L783.64 108.64 M773.65 112.17 L783.64 112.17" stroke="#00ffff" stroke-width="1.85" fill="none" stroke-linecap="round" stroke-linejoin="round"/>
<g stroke="#00ffff" stroke-width="1.95" fill="none" stroke-linecap="round" stroke-linejoin="round"><path id="t26" transform="translate(-0.35,0)" d="M790.18 105.16 L790.74 105.72 L790.18 106.27 L789.63 105.72 L789.63 105.16 L790.18 104.05 L790.74 103.50 L792.40 102.94 L794.62 102.94 L796.29 103.50 L796.84 104.05 L797.40 105.16 L797.40 106.27 L796.84 107.38 L795.18 108.49 L792.40 109.60 L791.29 110.16 L790.18 111.27 L789.63 112.93 L789.63 114.60 M794.62 102.94 L795.73 103.50 L796.29 104.05 L796.84 105.16 L796.84 106.27 L796.29 107.38 L794.62 108.49 L792.40 109.60 M789.63 113.49 L790.18 112.93 L791.29 112.93 L794.07 114.04 L795.73 114.04 L796.84 113.49 L797.40 112.93 M791.29 112.93 L794.07 114.60 L796.29 114.60 L796.84 114.04 L797.40 112.93 L797.40 111.82 M807.27 107.38 L805.60 114.60 M807.27 107.38 L806.16 114.60 M802.27 108.49 L803.38 107.38 L805.05 106.83 L811.15 106.83 M802.27 108.49 L803.38 107.94 L805.05 107.38 L811.15 107.38"/><path transform="translate(0.35,0)" d="M790.18 105.16 L790.74 105.72 L790.18 106.27 L789.63 105.72 L789.63 105.16 L790.18 104.05 L790.74 103.50 L792.40 102.94 L794.62 102.94 L796.29 103.50 L796.84 104.05 L797.40 105.16 L797.40 106.27 L796.84 107.38 L795.18 108.49 L792.40 109.60 L791.29 110.16 L790.18 111.27 L789.63 112.93 L789.63 114.60 M794.62 102.94 L795.73 103.50 L796.29 104.05 L796.84 105.16 L796.84 106.27 L796.29 107.38 L794.62 108.49 L792.40 109.60 M789.63 113.49 L790.18 112.93 L791.29 112.93 L794.07 114.04 L795.73 114.04 L796.84 113.49 L797.40 112.93 M791.29 112.93 L794.07 114.60 L796.29 114.60 L796.84 114.04 L797.40 112.93 L797.40 111.82 M807.27 107.38 L805.60 114.60 M807.27 107.38 L806.16 114.60 M802.27 108.49 L803.38 107.38 L805.05 106.83 L811.15 106.83 M802.27 108.49 L803.38 107.94 L805.05 107.38 L811.15 107.38"/></g>
<g stroke="#00ffff" stroke-width="1.95" fill="none" stroke-linecap="round" stroke-linejoin="round"><path id="t27" transform="translate(-0.35,0)" d="M815.63 116.80 L815.63 117.14 L815.30 117.14 L815.30 116.80 L815.63 116.47 L816.29 116.14 L817.63 116.14 L818.29 116.47 L818.62 116.80 L818.96 117.47 L818.96 119.80 L819.29 120.47 L819.62 120.80 M818.62 116.80 L818.62 119.80 L818.96 120.47 L819.62 120.80 L819.96 120.80 M818.62 117.47 L818.29 117.80 L816.29 118.14 L815.30 118.47 L814.96 119.13 L814.96 119.80 L815.30 120.47 L816.29 120.80 L817.29 120.80 L817.96 120.47 L818.62 119.80 M816.29 118.14 L815.63 118.47 L815.30 119.13 L815.30 119.80 L815.63 120.47 L816.29 120.80"/><path transform="translate(0.35,0)" d="M815.63 116.80 L815.63 117.14 L815.30 117.14 L815.30 116.80 L815.63 116.47 L816.29 116.14 L817.63 116.14 L818.29 116.47 L818.62 116.80 L818.96 117.47 L818.96 119.80 L819.29 120.47 L819.62 120.80 M818.62 116.80 L818.62 119.80 L818.96 120.47 L819.62 120.80 L819.96 120.80 M818.62 117.47 L818.29 117.80 L816.29 118.14 L815.30 118.47 L814.96 119.13 L814.96 119.80 L815.30 120.47 L816.29 120.80 L817.29 120.80 L817.96 120.47 L818.62 119.80 M816.29 118.14 L815.63 118.47 L815.30 119.13 L815.30 119.80 L815.63 120.47 L816.29 120.80"/></g>
<g stroke="#ff00ff" stroke-width="1.95" fill="none" stroke-linecap="round" stroke-linejoin="round"><path id="t28" transform="translate(-0.35,0)" d="M650.25 134.28 L648.59 141.50 M650.25 134.28 L649.14 141.50 M645.26 135.40 L646.37 134.28 L648.03 133.73 L654.14 133.73 M645.26 135.40 L646.37 134.84 L648.03 134.28 L654.14 134.28"/><path transform="translate(0.35,0)" d="M650.25 134.28 L648.59 141.50 M650.25 134.28 L649.14 141.50 M645.26 135.40 L646.37 134.28 L648.03 133.73 L654.14 133.73 M645.26 135.40 L646.37 134.84 L648.03 134.28 L654.14 134.28"/></g>
<g stroke="#ff00ff" stroke-width="1.95" fill="none" stroke-linecap="round" stroke-linejoin="round"><path id="t29" transform="translate(-0.35,0)" d="M658.62 143.70 L658.62 144.04 L658.28 144.04 L658.28 143.70 L658.62 143.37 L659.28 143.04 L660.61 143.04 L661.28 143.37 L661.61 143.70 L661.95 144.37 L661.95 146.70 L662.28 147.37 L662.61 147.70 M661.61 143.70 L661.61 146.70 L661.95 147.37 L662.61 147.70 L662.94 147.70 M661.61 144.37 L661.28 144.70 L659.28 145.04 L658.28 145.37 L657.95 146.03 L657.95 146.70 L658.28 147.37 L659.28 147.70 L660.28 147.70 L660.95 147.37 L661.61 146.70 M659.28 145.04 L658.62 145.37 L658.28 146.03 L658.28 146.70 L658.62 147.37 L659.28 147.70"/><path transform="translate(0.35,0)" d="M658.62 143.70 L658.62 144.04 L658.28 144.04 L658.28 143.70 L658.62 143.37 L659.28 143.04 L660.61 143.04 L661.28 143.37 L661.61 143.70 L661.95 144.37 L661.95 146.70 L662.28 147.37 L662.61 147.70 M661.61 143.70 L661.61 146.70 L661.95 147.37 L662.61 147.70 L662.94 147.70 M661.61 144.37 L661.28 144.70 L659.28 145.04 L658.28 145.37 L657.95 146.03 L657.95 146.70 L658.28 147.37 L659.28 147.70 L660.28 147.70 L660.95 147.37 L661.61 146.70 M659.28 145.04 L658.62 145.37 L658.28 146.03 L658.28 146.70 L658.62 147.37 L659.28 147.70"/></g>
<path d="M667.53 135.54 L677.52 135.54 M667.53 139.07 L677.52 139.07" stroke="#ff00ff" stroke-width="1.85" fill="none" stroke-linecap="round" stroke-linejoin="round"/>
<g stroke="#ff00ff" stroke-width="1.95" fill="none" stroke-linecap="round" stroke-linejoin="round"><path id="t30" transform="translate(-0.35,0)" d="M686.84 129.84 L685.17 130.40 L684.06 132.06 L683.50 134.84 L683.50 136.50 L684.06 139.28 L685.17 140.94 L686.84 141.50 L687.94 141.50 L689.61 140.94 L690.72 139.28 L691.27 136.50 L691.27 134.84 L690.72 132.06 L689.61 130.40 L687.94 129.84 L686.84 129.84 M686.84 129.84 L685.73 130.40 L685.17 130.95 L684.62 132.06 L684.06 134.84 L684.06 136.50 L684.62 139.28 L685.17 140.39 L685.73 140.94 L686.84 141.50 M687.94 141.50 L689.05 140.94 L689.61 140.39 L690.16 139.28 L690.72 136.50 L690.72 134.84 L690.16 132.06 L689.61 130.95 L689.05 130.40 L687.94 129.84 M697.82 140.39 L697.26 140.94 L697.82 141.50 L698.37 140.94 L697.82 140.39 M707.69 129.84 L706.02 130.40 L704.91 132.06 L704.36 134.84 L704.36 136.50 L704.91 139.28 L706.02 140.94 L707.69 141.50 L708.79 141.50 L710.46 140.94 L711.57 139.28 L712.12 136.50 L712.12 134.84 L711.57 132.06 L710.46 130.40 L708.79 129.84 L707.69 129.84 M707.69 129.84 L706.58 130.40 L706.02 130.95 L705.47 132.06 L704.91 134.84 L704.91 136.50 L705.47 139.28 L706.02 140.39 L706.58 140.94 L707.69 141.50 M708.79 141.50 L709.90 140.94 L710.46 140.39 L711.01 139.28 L711.57 136.50 L711.57 134.84 L711.01 132.06 L710.46 130.95 L709.90 130.40 L708.79 129.84 M718.66 129.84 L717.55 135.40 M717.55 135.40 L718.66 134.28 L720.33 133.73 L721.99 133.73 L723.66 134.28 L724.77 135.40 L725.32 137.06 L725.32 138.17 L724.77 139.84 L723.66 140.94 L721.99 141.50 L720.33 141.50 L718.66 140.94 L718.11 140.39 L717.55 139.28 L717.55 138.72 L718.11 138.17 L718.66 138.72 L718.11 139.28 M721.99 133.73 L723.10 134.28 L724.21 135.40 L724.77 137.06 L724.77 138.17 L724.21 139.84 L723.10 140.94 L721.99 141.50 M718.66 129.84 L724.21 129.84 M718.66 130.40 L721.44 130.40 L724.21 129.84 M731.87 141.50 L731.31 140.94 L731.87 140.39 L732.42 140.94 L732.42 142.06 L731.87 143.16 L731.31 143.72 M742.84 134.28 L741.18 141.50 M742.84 134.28 L741.74 141.50 M737.85 135.40 L738.96 134.28 L740.62 133.73 L746.73 133.73 M737.85 135.40 L738.96 134.84 L740.62 134.28 L746.73 134.28"/><path transform="translate(0.35,0)" d="M686.84 129.84 L685.17 130.40 L684.06 132.06 L683.50 134.84 L683.50 136.50 L684.06 139.28 L685.17 140.94 L686.84 141.50 L687.94 141.50 L689.61 140.94 L690.72 139.28 L691.27 136.50 L691.27 134.84 L690.72 132.06 L689.61 130.40 L687.94 129.84 L686.84 129.84 M686.84 129.84 L685.73 130.40 L685.17 130.95 L684.62 132.06 L684.06 134.84 L684.06 136.50 L684.62 139.28 L685.17 140.39 L685.73 140.94 L686.84 141.50 M687.94 141.50 L689.05 140.94 L689.61 140.39 L690.16 139.28 L690.72 136.50 L690.72 134.84 L690.16 132.06 L689.61 130.95 L689.05 130.40 L687.94 129.84 M697.82 140.39 L697.26 140.94 L697.82 141.50 L698.37 140.94 L697.82 140.39 M707.69 129.84 L706.02 130.40 L704.91 132.06 L704.36 134.84 L704.36 136.50 L704.91 139.28 L706.02 140.94 L707.69 141.50 L708.79 141.50 L710.46 140.94 L711.57 139.28 L712.12 136.50 L712.12 134.84 L711.57 132.06 L710.46 130.40 L708.79 129.84 L707.69 129.84 M707.69 129.84 L706.58 130.40 L706.02 130.95 L705.47 132.06 L704.91 134.84 L704.91 136.50 L705.47 139.28 L706.02 140.39 L706.58 140.94 L707.69 141.50 M708.79 141.50 L709.90 140.94 L710.46 140.39 L711.01 139.28 L711.57 136.50 L711.57 134.84 L711.01 132.06 L710.46 130.95 L709.90 130.40 L708.79 129.84 M718.66 129.84 L717.55 135.40 M717.55 135.40 L718.66 134.28 L720.33 133.73 L721.99 133.73 L723.66 134.28 L724.77 135.40 L725.32 137.06 L725.32 138.17 L724.77 139.84 L723.66 140.94 L721.99 141.50 L720.33 141.50 L718.66 140.94 L718.11 140.39 L717.55 139.28 L717.55 138.72 L718.11 138.17 L718.66 138.72 L718.11 139.28 M721.99 133.73 L723.10 134.28 L724.21 135.40 L724.77 137.06 L724.77 138.17 L724.21 139.84 L723.10 140.94 L721.99 141.50 M718.66 129.84 L724.21 129.84 M718.66 130.40 L721.44 130.40 L724.21 129.84 M731.87 141.50 L731.31 140.94 L731.87 140.39 L732.42 140.94 L732.42 142.06 L731.87 143.16 L731.31 143.72 M742.84 134.28 L741.18 141.50 M742.84 134.28 L741.74 141.50 M737.85 135.40 L738.96 134.28 L740.62 133.73 L746.73 133.73 M737.85 135.40 L738.96 134.84 L740.62 134.28 L746.73 134.28"/></g>
<g stroke="#ff00ff" stroke-width="1.95" fill="none" stroke-linecap="round" stroke-linejoin="round"><path id="t31" transform="translate(-0.35,0)" d="M754.54 140.71 L754.54 147.70 M754.87 140.71 L754.87 147.70 M754.54 144.04 L753.87 143.37 L753.20 143.04 L752.54 143.04 L751.54 143.37 L750.87 144.04 L750.54 145.04 L750.54 145.70 L750.87 146.70 L751.54 147.37 L752.54 147.70 L753.20 147.70 L753.87 147.37 L754.54 146.70 M752.54 143.04 L751.87 143.37 L751.21 144.04 L750.87 145.04 L750.87 145.70 L751.21 146.70 L751.87 147.37 L752.54 147.70 M753.54 140.71 L754.87 140.71 M754.54 147.70 L755.87 147.70"/><path transform="translate(0.35,0)" d="M754.54 140.71 L754.54 147.70 M754.87 140.71 L754.87 147.70 M754.54 144.04 L753.87 143.37 L753.20 143.04 L752.54 143.04 L751.54 143.37 L750.87 144.04 L750.54 145.04 L750.54 145.70 L750.87 146.70 L751.54 147.37 L752.54 147.70 L753.20 147.70 L753.87 147.37 L754.54 146.70 M752.54 143.04 L751.87 143.37 L751.21 144.04 L750.87 145.04 L750.87 145.70 L751.21 146.70 L751.87 147.37 L752.54 147.70 M753.54 140.71 L754.87 140.71 M754.54 147.70 L755.87 147.70"/></g>
<path d="M760.45 135.54 L770.44 135.54 M760.45 139.07 L770.44 139.07" stroke="#ff00ff" stroke-width="1.85" fill="none" stroke-linecap="round" stroke-linejoin="round"/>
<g stroke="#ff00ff" stroke-width="1.95" fill="none" stroke-linecap="round" stroke-linejoin="round"><path id="t32" transform="translate(-0.35,0)" d="M776.98 132.06 L777.54 132.62 L776.98 133.18 L776.43 132.62 L776.43 132.06 L776.98 130.95 L777.54 130.40 L779.20 129.84 L781.42 129.84 L783.09 130.40 L783.64 130.95 L784.20 132.06 L784.20 133.18 L783.64 134.28 L781.98 135.40 L779.20 136.50 L778.09 137.06 L776.98 138.17 L776.43 139.84 L776.43 141.50 M781.42 129.84 L782.53 130.40 L783.09 130.95 L783.64 132.06 L783.64 133.18 L783.09 134.28 L781.42 135.40 L779.20 136.50 M776.43 140.39 L776.98 139.84 L778.09 139.84 L780.87 140.94 L782.53 140.94 L783.64 140.39 L784.20 139.84 M778.09 139.84 L780.87 141.50 L783.09 141.50 L783.64 140.94 L784.20 139.84 L784.20 138.72 M794.07 134.28 L792.40 141.50 M794.07 134.28 L792.96 141.50 M789.07 135.40 L790.18 134.28 L791.85 133.73 L797.95 133.73 M789.07 135.40 L790.18 134.84 L791.85 134.28 L797.95 134.28"/><path transform="translate(0.35,0)" d="M776.98 132.06 L777.54 132.62 L776.98 133.18 L776.43 132.62 L776.43 132.06 L776.98 130.95 L777.54 130.40 L779.20 129.84 L781.42 129.84 L783.09 130.40 L783.64 130.95 L784.20 132.06 L784.20 133.18 L783.64 134.28 L781.98 135.40 L779.20 136.50 L778.09 137.06 L776.98 138.17 L776.43 139.84 L776.43 141.50 M781.42 129.84 L782.53 130.40 L783.09 130.95 L783.64 132.06 L783.64 133.18 L783.09 134.28 L781.42 135.40 L779.20 136.50 M776.43 140.39 L776.98 139.84 L778.09 139.84 L780.87 140.94 L782.53 140.94 L783.64 140.39 L784.20 139.84 M778.09 139.84 L780.87 141.50 L783.09 141.50 L783.64 140.94 L784.20 139.84 L784.20 138.72 M794.07 134.28 L792.40 141.50 M794.07 134.28 L792.96 141.50 M789.07 135.40 L790.18 134.28 L791.85 133.73 L797.95 133.73 M789.07 135.40 L790.18 134.84 L791.85 134.28 L797.95 134.28"/></g>
<g stroke="#ff00ff" stroke-width="1.95" fill="none" stroke-linecap="round" stroke-linejoin="round"><path id="t33" transform="translate(-0.35,0)" d="M802.43 143.70 L802.43 144.04 L802.10 144.04 L802.10 143.70 L802.43 143.37 L803.09 143.04 L804.43 143.04 L805.09 143.37 L805.42 143.70 L805.76 144.37 L805.76 146.70 L806.09 147.37 L806.42 147.70 M805.42 143.70 L805.42 146.70 L805.76 147.37 L806.42 147.70 L806.76 147.70 M805.42 144.37 L805.09 144.70 L803.09 145.04 L802.10 145.37 L801.76 146.03 L801.76 146.70 L802.10 147.37 L803.09 147.70 L804.09 147.70 L804.76 147.37 L805.42 146.70 M803.09 145.04 L802.43 145.37 L802.10 146.03 L802.10 146.70 L802.43 147.37 L803.09 147.70"/><path transform="translate(0.35,0)" d="M802.43 143.70 L802.43 144.04 L802.10 144.04 L802.10 143.70 L802.43 143.37 L803.09 143.04 L804.43 143.04 L805.09 143.37 L805.42 143.70 L805.76 144.37 L805.76 146.70 L806.09 147.37 L806.42 147.70 M805.42 143.70 L805.42 146.70 L805.76 147.37 L806.42 147.70 L806.76 147.70 M805.42 144.37 L805.09 144.70 L803.09 145.04 L802.10 145.37 L801.76 146.03 L801.76 146.70 L802.10 147.37 L803.09 147.70 L804.09 147.70 L804.76 147.37 L805.42 146.70 M803.09 145.04 L802.43 145.37 L802.10 146.03 L802.10 146.70 L802.43 147.37 L803.09 147.70"/></g>
<path d="M120.72 244.94 L120.72 247.72 M120.72 246.79 L121.18 245.86 L122.11 244.94 L123.04 244.94 L125.37 246.33 L126.30 246.33 L126.77 245.86 L127.23 244.94 M121.18 245.86 L122.11 245.40 L123.04 245.40 L125.37 246.33 M127.23 244.94 L127.23 246.33 L126.77 247.72 L124.91 250.05 L124.44 250.98 L123.97 252.38 L123.97 254.70 M126.77 247.72 L124.44 250.05 L123.97 250.98 L123.51 252.38 L123.51 254.70 M137.98 246.33 L138.44 247.72 L138.44 244.94 L137.98 246.33 L137.05 245.40 L135.66 244.94 L134.72 244.94 L133.33 245.40 L132.40 246.33 L131.94 247.26 L131.47 248.66 L131.47 250.98 L131.94 252.38 L132.40 253.30 L133.33 254.23 L134.72 254.70 L135.66 254.70 L137.05 254.23 L137.98 253.30 M134.72 244.94 L133.79 245.40 L132.87 246.33 L132.40 247.26 L131.94 248.66 L131.94 250.98 L132.40 252.38 L132.87 253.30 L133.79 254.23 L134.72 254.70 M137.98 250.98 L137.98 254.70 M138.44 250.98 L138.44 254.70 M136.59 250.98 L139.84 250.98 M144.08 248.19 L146.87 254.70 M144.55 248.19 L146.87 253.77 M149.66 248.19 L146.87 254.70 L145.94 256.56 L145.01 257.49 L144.08 257.95 L143.62 257.95 L143.15 257.49 L143.62 257.02 L144.08 257.49 M143.15 248.19 L145.94 248.19 M147.80 248.19 L150.59 248.19 M154.83 248.19 L154.83 254.70 M155.29 248.19 L155.29 254.70 M155.29 250.98 L155.76 249.58 L156.69 248.66 L157.62 248.19 L159.01 248.19 L159.48 248.66 L159.48 249.12 L159.01 249.58 L158.55 249.12 L159.01 248.66 M153.44 248.19 L155.29 248.19 M153.44 254.70 L156.69 254.70" stroke="#000" stroke-width="1.25" fill="none" stroke-linecap="round" stroke-linejoin="round"/>
<path d="M208.59 246.79 L209.05 247.26 L208.59 247.72 L208.12 247.26 L208.12 246.79 L208.59 245.86 L209.05 245.40 L210.44 244.94 L212.31 244.94 L213.70 245.40 L214.16 245.86 L214.63 246.79 L214.63 247.72 L214.16 248.66 L212.77 249.58 L210.44 250.51 L209.51 250.98 L208.59 251.91 L208.12 253.30 L208.12 254.70 M212.31 244.94 L213.24 245.40 L213.70 245.86 L214.16 246.79 L214.16 247.72 L213.70 248.66 L212.31 249.58 L210.44 250.51 M208.12 253.77 L208.59 253.30 L209.51 253.30 L211.84 254.23 L213.24 254.23 L214.16 253.77 L214.63 253.30 M209.51 253.30 L211.84 254.70 L213.70 254.70 L214.16 254.23 L214.63 253.30 L214.63 252.38 M225.38 246.33 L225.84 247.72 L225.84 244.94 L225.38 246.33 L224.45 245.40 L223.06 244.94 L222.12 244.94 L220.73 245.40 L219.80 246.33 L219.34 247.26 L218.87 248.66 L218.87 250.98 L219.34 252.38 L219.80 253.30 L220.73 254.23 L222.12 254.70 L223.06 254.70 L224.45 254.23 L225.38 253.30 M222.12 244.94 L221.19 245.40 L220.27 246.33 L219.80 247.26 L219.34 248.66 L219.34 250.98 L219.80 252.38 L220.27 253.30 L221.19 254.23 L222.12 254.70 M225.38 250.98 L225.38 254.70 M225.84 250.98 L225.84 254.70 M223.99 250.98 L227.24 250.98 M231.48 248.19 L234.27 254.70 M231.95 248.19 L234.27 253.77 M237.06 248.19 L234.27 254.70 L233.34 256.56 L232.41 257.49 L231.48 257.95 L231.02 257.95 L230.55 257.49 L231.02 257.02 L231.48 257.49 M230.55 248.19 L233.34 248.19 M235.20 248.19 L237.99 248.19 M242.23 248.19 L242.23 254.70 M242.69 248.19 L242.69 254.70 M242.69 250.98 L243.16 249.58 L244.09 248.66 L245.02 248.19 L246.41 248.19 L246.88 248.66 L246.88 249.12 L246.41 249.58 L245.95 249.12 L246.41 248.66 M240.84 248.19 L242.69 248.19 M240.84 254.70 L244.09 254.70" stroke="#000" stroke-width="1.25" fill="none" stroke-linecap="round" stroke-linejoin="round"/>
</svg>
</body></html>
